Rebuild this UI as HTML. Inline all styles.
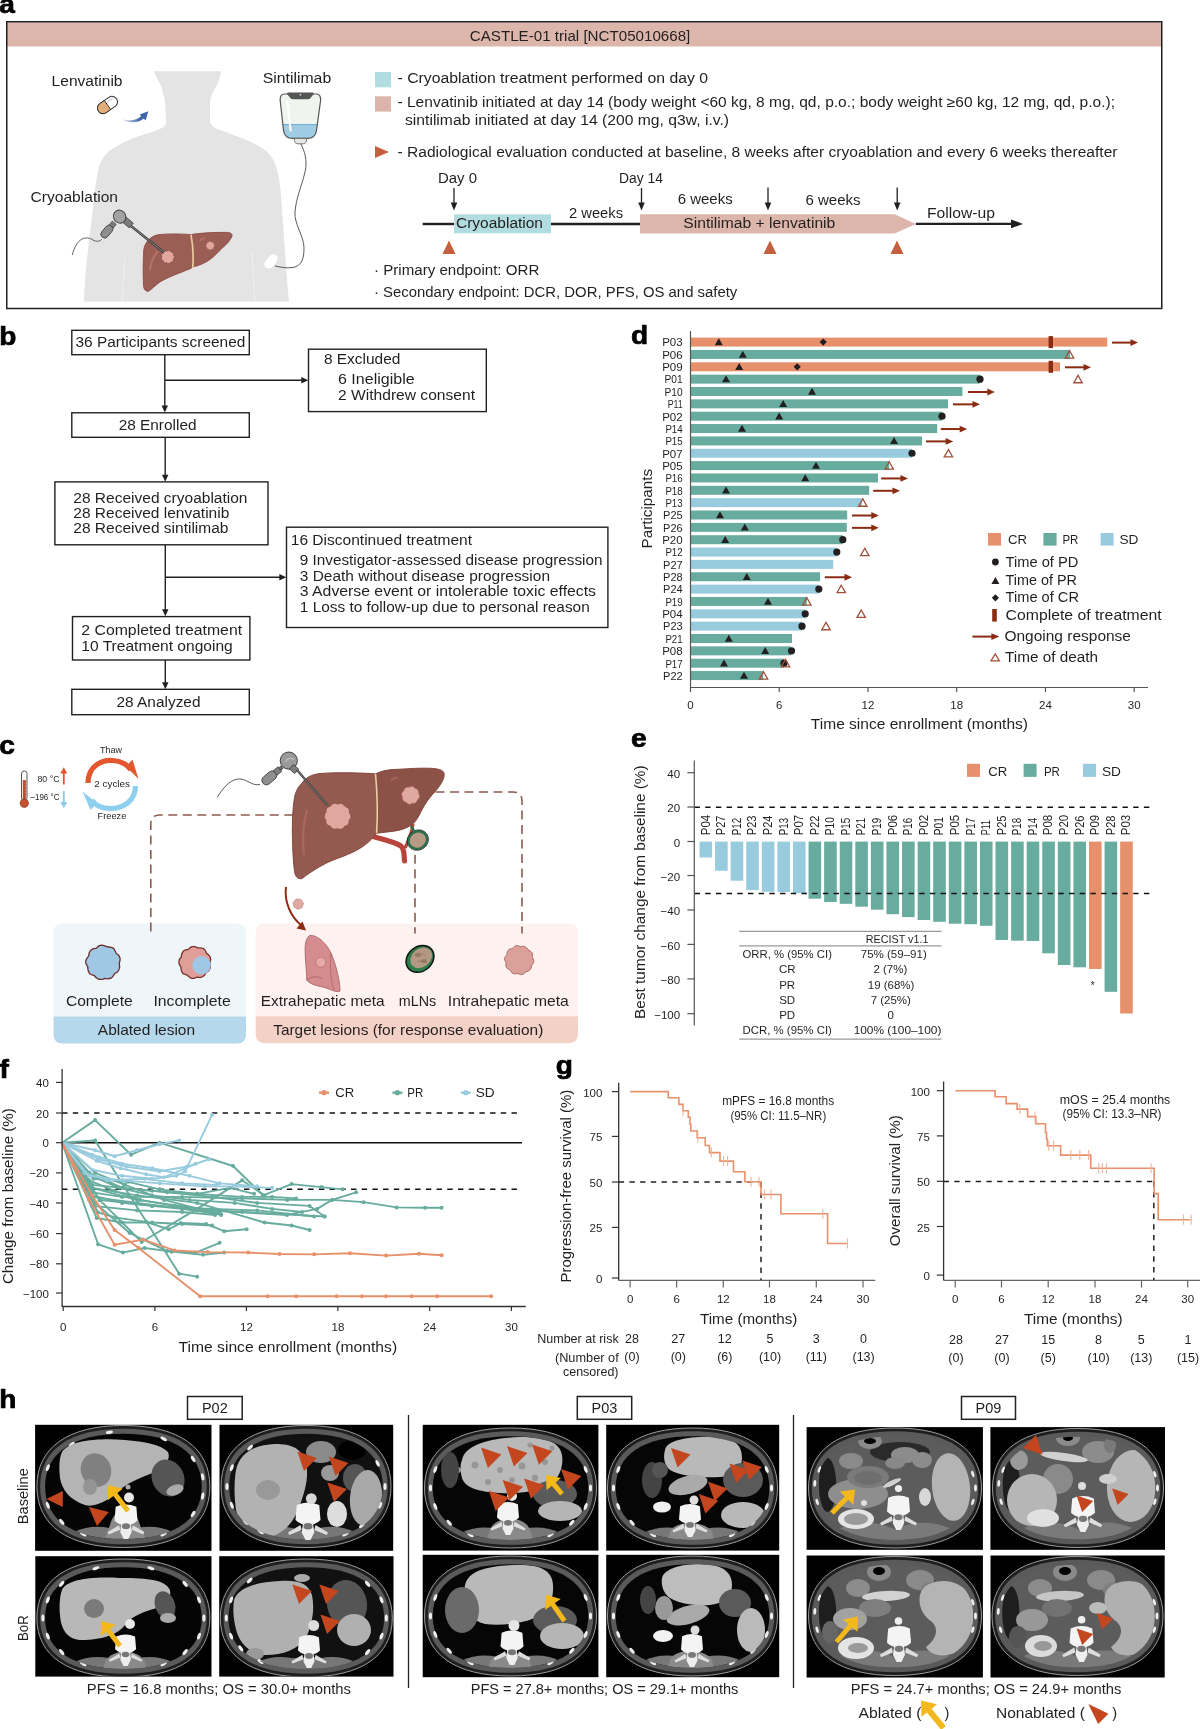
<!DOCTYPE html>
<html><head><meta charset="utf-8"><title>CASTLE-01 figure</title>
<style>
html,body{margin:0;padding:0;background:#fff;}
body{width:1200px;height:1729px;overflow:hidden;}
svg{display:block;font-family:"Liberation Sans",sans-serif;will-change:transform;}
</style></head><body>
<svg width="1200" height="1729" viewBox="0 0 1200 1729">
<rect x="0" y="0" width="1200" height="1729" fill="#fff"/>
<g fill="#231f20">
<text x="0" y="0" transform="translate(-0.71 13.30) scale(1.1 1)" font-size="25.5" font-weight="bold" fill="#000" stroke="#000" stroke-width="0.7">a</text>
<rect x="7.00" y="22.50" width="1154.50" height="24.00" fill="#dcb6aa" />
<rect x="6.75" y="21.75" width="1155.00" height="286.75" fill="none" stroke="#231f20" stroke-width="1.5" />
<text x="469.80" y="40.90" font-size="14" textLength="220.50" lengthAdjust="spacingAndGlyphs" >CASTLE-01 trial [NCT05010668]</text>
<path d="M153.75,71.25 L221.25,71.25 C220,78 218,83 216.25,86.25 C212,93 210,98 210,102.5 L210,122.5 C212,127 216,129 220,130 C228,133 234,135 240,137.5 C252,142 260,146 265,150 C271,155 274,160 276,166 C279,176 280,184 281,195 C282,210 283,222 284,240 C286,262 287,282 289,301.5 L83.75,301.5 C85,282 86,265 87.5,255 C89,240 91,225 92.5,212 C94,195 96,180 99,167 C102,158 106,153 112,149 C120,144 128,140 135,137.5 C145,134 152,132 157.5,130 C162,128 166,126 166.25,122.5 L165,101.25 C164,96 162,91 161.25,86.25 C158,80 155,75 153.75,71.25 Z" fill="#e4e4e4" />
<path d="M125,257 C124,272 123,288 122,301" fill="none" stroke="#ededed" stroke-width="1.2" />
<path d="M252,252 C253,270 254,288 255,301" fill="none" stroke="#ededed" stroke-width="1.2" />
<text x="51.60" y="85.60" font-size="14" textLength="70.90" lengthAdjust="spacingAndGlyphs" >Lenvatinib</text>
<text x="262.70" y="83.00" font-size="14" textLength="68.50" lengthAdjust="spacingAndGlyphs" >Sintilimab</text>
<text x="30.60" y="202.00" font-size="14" textLength="87.40" lengthAdjust="spacingAndGlyphs" >Cryoablation</text>
<g transform="rotate(-35 107.5 105)"><rect x="96.5" y="99.5" width="22" height="11" rx="5.5" fill="#fff" stroke="#333" stroke-width="1"/><path d="M102,99.5 L107.5,99.5 L107.5,110.5 L102,110.5 A5.5,5.5 0 0 1 102,99.5 Z" fill="#e2ae7a" stroke="#333" stroke-width="0.9"/><rect x="109" y="101.5" width="7" height="2" rx="1" fill="#ddd"/></g>
<linearGradient id="bluear" x1="123" y1="0" x2="140" y2="0" gradientUnits="userSpaceOnUse"><stop offset="0" stop-color="#3b63a8" stop-opacity="0.1"/><stop offset="1" stop-color="#3b63a8" stop-opacity="1"/></linearGradient>
<path d="M123.5,119.2 C130,121 136.5,120.3 141.2,116.2 L139.8,114.6 L148.3,111.2 L145.6,120.6 L143.7,118.5 C138,123.3 130,123 123.5,120.4 Z" fill="url(#bluear)" />
<clipPath id="bagclip"><path d="M284,94 C281.5,94.3 280,96.5 280.2,100.5 L283.6,131 C284.4,136 288,138.4 292.5,138.4 L307.5,138.4 C312,138.4 315.6,136 316.4,131 L320.6,100.5 C320.8,96.5 319.3,94.3 316.8,94 Z"/></clipPath>
<path d="M284,94 C281.5,94.3 280,96.5 280.2,100.5 L283.6,131 C284.4,136 288,138.4 292.5,138.4 L307.5,138.4 C312,138.4 315.6,136 316.4,131 L320.6,100.5 C320.8,96.5 319.3,94.3 316.8,94 Z" fill="#eff4ef" />
<g clip-path="url(#bagclip)"><rect x="278" y="124" width="45" height="16" fill="#9fcbe3"/><rect x="278" y="124" width="45" height="1" fill="#6fb0d8"/></g>
<path d="M287.5,101 L290.6,130.5" fill="none" stroke="#fff" stroke-width="2.2" stroke-linecap="round"/>
<path d="M284,94 C281.5,94.3 280,96.5 280.2,100.5 L283.6,131 C284.4,136 288,138.4 292.5,138.4 L307.5,138.4 C312,138.4 315.6,136 316.4,131 L320.6,100.5 C320.8,96.5 319.3,94.3 316.8,94 Z" fill="none" stroke="#555" stroke-width="1.2" />
<path d="M288.5,92.6 L312.5,92.6 C313.8,92.6 314.2,93.5 313.4,94.6 L310.2,98.3 C309.6,99 309,99.2 308,99.2 L292.8,99.2 C291.8,99.2 291.2,99 290.6,98.3 L287.4,94.6 C286.6,93.5 287.2,92.6 288.5,92.6 Z" fill="#555" />
<rect x="299.60" y="94.30" width="1.60" height="1.10" fill="#fff" />
<path d="M294.2,138.4 L306.6,138.4 L306.1,141.6 C305.7,143.2 304.5,143.8 302.6,143.8 L298.2,143.8 C296.3,143.8 295.1,143.2 294.7,141.6 Z" fill="#e8e8e8" stroke="#666" stroke-width="0.9" />
<path d="M300.8,143.8 C304,150 308,160 305,172 C302,185 296,198 295,212 C294,224 304,236 304,248 C304,258 302,266 293,267.5 C286,268.5 280,267 275,266" fill="none" stroke="#4a4a4a" stroke-width="0.9" />
<rect x="266" y="253" width="10" height="17" rx="5" fill="#fff" stroke="#ddd" stroke-width="0.8" transform="rotate(40 271 261.5)"/>
<path d="M148,291.5 C145,291 143.5,289 143.5,285 C143,275 143,262 143.75,249.5 C145,242 151,236 158.6,234.6 C170,233.5 182,233.8 191,234.6 C200,233 215,232.2 226.9,232.4 C231,232.5 233,234 231.7,237 C229,242 226,245 222.5,247.75 C218,252 215,256 210,259.5 C205,263 199,265.5 194.5,266.5 C192.5,267 191.5,268 190,268.75 C180,273 168,277 160,282 C155,285.5 151,290 148,291.5 Z" fill="#9b5e55" stroke="#87433a" stroke-width="0.8" />
<path d="M191,234.6 C193,245 193.5,257 192.75,267.9" fill="none" stroke="#ecc9a0" stroke-width="1.7" />
<path d="M157.75,251.25 C153,257 150.5,264 149.9,270.5" fill="none" stroke="#b37368" stroke-width="2" />
<path d="M200,241 C201,239 203,238 205,238" fill="none" stroke="#b37368" stroke-width="1.5" />
<path d="M174.32,257.00 L174.30,257.57 L174.06,258.10 L173.71,258.58 L173.33,259.01 L173.33,259.58 L173.29,260.17 L173.14,260.74 L172.81,261.20 L172.43,261.63 L171.90,261.88 L171.32,262.02 L170.72,262.06 L170.34,262.45 L169.97,262.98 L169.49,263.31 L168.95,263.51 L168.37,263.55 L167.80,263.36 L167.26,263.13 L166.77,262.82 L166.23,262.87 L165.63,262.97 L165.04,262.92 L164.54,262.64 L164.04,262.37 L163.67,261.92 L163.44,261.36 L163.32,260.76 L162.85,260.47 L162.38,260.13 L161.87,259.76 L161.58,259.26 L161.48,258.69 L161.52,258.11 L161.60,257.54 L161.90,257.00 L161.72,256.47 L161.55,255.90 L161.53,255.32 L161.64,254.76 L161.86,254.23 L162.27,253.81 L162.78,253.48 L163.30,253.23 L163.49,252.69 L163.78,252.21 L164.11,251.73 L164.51,251.30 L165.05,251.10 L165.61,250.98 L166.20,251.04 L166.78,251.22 L167.27,250.91 L167.80,250.73 L168.36,250.55 L168.93,250.57 L169.50,250.67 L169.98,251.01 L170.40,251.42 L170.76,251.87 L171.26,252.06 L171.86,252.16 L172.42,252.38 L172.79,252.81 L173.11,253.28 L173.31,253.82 L173.42,254.38 L173.35,254.98 L173.61,255.44 L173.99,255.91 L174.22,256.44 Z" fill="#e3a7a2" stroke="#8e4a43" stroke-width="0.7" />
<path d="M214.41,245.60 L214.31,245.96 L214.15,246.30 L213.93,246.60 L213.82,246.92 L213.80,247.28 L213.76,247.65 L213.60,247.98 L213.43,248.31 L213.15,248.55 L212.87,248.78 L212.52,248.91 L212.15,248.97 L211.82,249.08 L211.56,249.35 L211.25,249.52 L210.92,249.70 L210.57,249.81 L210.20,249.77 L209.84,249.73 L209.50,249.58 L209.18,249.39 L208.89,249.19 L208.54,249.17 L208.15,249.16 L207.80,249.03 L207.50,248.81 L207.26,248.54 L207.06,248.24 L206.89,247.92 L206.84,247.54 L206.69,247.24 L206.46,246.96 L206.28,246.65 L206.09,246.33 L206.03,245.96 L205.98,245.60 L206.06,245.24 L206.23,244.90 L206.42,244.59 L206.58,244.28 L206.58,243.91 L206.63,243.54 L206.82,243.23 L206.99,242.91 L207.23,242.63 L207.56,242.45 L207.89,242.30 L208.27,242.25 L208.57,242.09 L208.84,241.87 L209.15,241.68 L209.47,241.49 L209.84,241.43 L210.20,241.44 L210.56,241.49 L210.89,241.66 L211.20,241.85 L211.52,241.97 L211.89,241.99 L212.22,242.10 L212.60,242.17 L212.87,242.41 L213.15,242.65 L213.39,242.93 L213.51,243.28 L213.56,243.66 L213.67,243.98 L213.92,244.24 L214.12,244.55 L214.34,244.87 L214.35,245.24 Z" fill="#e0a6a0" stroke="#a8625b" stroke-width="0.5" />
<path d="M101.7,239.4 C99.5,241.5 96,242 93,240 C90,238 86,237 82,239 C77,242 74,248 72.3,255" fill="none" stroke="#3a3a3a" stroke-width="0.8" />
<g transform="rotate(-50 107.2 231.2)"><rect x="99.5" y="227.4" width="14.5" height="7.6" rx="3.8" fill="#8e8e8e" stroke="#3a3a3a" stroke-width="0.8"/><rect x="113.6" y="228.6" width="4.6" height="5.2" fill="#7a7a7a" stroke="#3a3a3a" stroke-width="0.6"/></g>
<line x1="131.00" y1="226.00" x2="164.00" y2="252.50" stroke="#3a3a3a" stroke-width="2.4" />
<line x1="131.00" y1="226.00" x2="164.00" y2="252.50" stroke="#8a8a8a" stroke-width="1.0" />
<g transform="rotate(40 127.5 222.3)"><rect x="122.5" y="219.2" width="10" height="6.2" fill="#7a7a7a" stroke="#3a3a3a" stroke-width="0.7"/></g>
<ellipse cx="119.6" cy="216.6" rx="6.1" ry="6.7" transform="rotate(-30 119.6 216.6)" fill="#a2a2a2" stroke="#3a3a3a" stroke-width="0.9"/>
<rect x="375.00" y="72.00" width="16.00" height="15.30" fill="#b2dde0" />
<rect x="375.00" y="96.30" width="16.00" height="15.30" fill="#dbb5aa" />
<path d="M375,146 L389,152 L375,158 Z" fill="#c5603f" />
<text x="397.50" y="83.10" font-size="14" textLength="310.50" lengthAdjust="spacingAndGlyphs" >- Cryoablation treatment performed on day 0</text>
<text x="397.50" y="107.30" font-size="14" textLength="717.50" lengthAdjust="spacingAndGlyphs" >- Lenvatinib initiated at day 14 (body weight &lt;60 kg, 8 mg, qd, p.o.; body weight ≥60 kg, 12 mg, qd, p.o.);</text>
<text x="405.00" y="124.50" font-size="14" textLength="324.00" lengthAdjust="spacingAndGlyphs" >sintilimab initiated at day 14 (200 mg, q3w, i.v.)</text>
<text x="397.50" y="156.80" font-size="14" textLength="720.00" lengthAdjust="spacingAndGlyphs" >- Radiological evaluation conducted at baseline, 8 weeks after cryoablation and every 6 weeks thereafter</text>
<line x1="422.70" y1="224.00" x2="454.00" y2="224.00" stroke="#231f20" stroke-width="2.4" />
<rect x="454.00" y="214.30" width="97.00" height="19.00" fill="#b2dde0" />
<line x1="551.00" y1="224.00" x2="640.00" y2="224.00" stroke="#231f20" stroke-width="2.4" />
<path d="M640,214.3 L894.7,214.3 L915.8,223.9 L894.7,233.5 L640,233.5 Z" fill="#dcb6aa" />
<line x1="915.80" y1="223.90" x2="1015.00" y2="223.90" stroke="#231f20" stroke-width="2.4" />
<path d="M1011,219.5 L1023,223.9 L1011,228.3 Z" fill="#231f20" />
<text x="456.00" y="227.70" font-size="14" textLength="87.00" lengthAdjust="spacingAndGlyphs" >Cryoablation</text>
<text x="683.30" y="227.70" font-size="14" textLength="152.00" lengthAdjust="spacingAndGlyphs" >Sintilimab + lenvatinib</text>
<text x="438.00" y="182.70" font-size="14" textLength="39.00" lengthAdjust="spacingAndGlyphs" >Day 0</text>
<text x="619.00" y="182.70" font-size="14" textLength="44.00" lengthAdjust="spacingAndGlyphs" >Day 14</text>
<text x="569.00" y="218.00" font-size="14" textLength="54.00" lengthAdjust="spacingAndGlyphs" >2 weeks</text>
<text x="677.70" y="204.30" font-size="14" textLength="55.00" lengthAdjust="spacingAndGlyphs" >6 weeks</text>
<text x="805.50" y="204.80" font-size="14" textLength="55.00" lengthAdjust="spacingAndGlyphs" >6 weeks</text>
<text x="927.00" y="217.70" font-size="14" textLength="68.00" lengthAdjust="spacingAndGlyphs" >Follow-up</text>
<line x1="454.00" y1="188.00" x2="454.00" y2="203.50" stroke="#231f20" stroke-width="1.3" />
<path d="M450.70,202.50 L454.00,210.50 L457.30,202.50 Z" fill="#231f20" />
<line x1="641.50" y1="188.00" x2="641.50" y2="203.50" stroke="#231f20" stroke-width="1.3" />
<path d="M638.20,202.50 L641.50,210.50 L644.80,202.50 Z" fill="#231f20" />
<line x1="768.00" y1="187.50" x2="768.00" y2="203.50" stroke="#231f20" stroke-width="1.3" />
<path d="M764.70,202.50 L768.00,210.50 L771.30,202.50 Z" fill="#231f20" />
<line x1="897.20" y1="187.50" x2="897.20" y2="203.50" stroke="#231f20" stroke-width="1.3" />
<path d="M893.90,202.50 L897.20,210.50 L900.50,202.50 Z" fill="#231f20" />
<path d="M442.5,254 L449,240.5 L455.5,254 Z" fill="#c5603f" />
<path d="M763.5,254 L770,240.5 L776.5,254 Z" fill="#c5603f" />
<path d="M890.5,254 L897,240.5 L903.5,254 Z" fill="#c5603f" />
<text x="374.00" y="275.00" font-size="14" textLength="165.30" lengthAdjust="spacingAndGlyphs" >· Primary endpoint: ORR</text>
<text x="374.00" y="296.70" font-size="14" textLength="363.30" lengthAdjust="spacingAndGlyphs" >· Secondary endpoint: DCR, DOR, PFS, OS and safety</text>
<text x="0" y="0" transform="translate(-0.87 345.30) scale(1.1 1)" font-size="25.5" font-weight="bold" fill="#000" stroke="#000" stroke-width="0.7">b</text>
<rect x="71.80" y="330.30" width="177.50" height="24.40" fill="none" stroke="#231f20" stroke-width="1.4" />
<text x="75.50" y="347.20" font-size="14" textLength="169.80" lengthAdjust="spacingAndGlyphs" >36 Participants screened</text>
<line x1="164.80" y1="354.70" x2="164.80" y2="406.50" stroke="#231f20" stroke-width="1.4" />
<path d="M161.60,405.50 L164.80,412.50 L168.00,405.50 Z" fill="#231f20" />
<line x1="164.80" y1="380.20" x2="302.30" y2="380.20" stroke="#231f20" stroke-width="1.4" />
<path d="M301.30,377.00 L308.30,380.20 L301.30,383.40 Z" fill="#231f20" />
<rect x="308.50" y="349.20" width="177.80" height="62.40" fill="none" stroke="#231f20" stroke-width="1.4" />
<text x="323.90" y="364.00" font-size="14" textLength="76.50" lengthAdjust="spacingAndGlyphs" >8 Excluded</text>
<text x="338.00" y="383.80" font-size="14" textLength="76.60" lengthAdjust="spacingAndGlyphs" >6 Ineligible</text>
<text x="338.00" y="400.00" font-size="14" textLength="137.00" lengthAdjust="spacingAndGlyphs" >2 Withdrew consent</text>
<rect x="71.80" y="412.80" width="177.50" height="24.50" fill="none" stroke="#231f20" stroke-width="1.4" />
<text x="118.70" y="430.00" font-size="14" textLength="77.80" lengthAdjust="spacingAndGlyphs" >28 Enrolled</text>
<line x1="165.20" y1="437.30" x2="165.20" y2="475.70" stroke="#231f20" stroke-width="1.4" />
<path d="M162.00,474.70 L165.20,481.70 L168.40,474.70 Z" fill="#231f20" />
<rect x="54.90" y="481.90" width="213.10" height="62.90" fill="none" stroke="#231f20" stroke-width="1.4" />
<text x="73.30" y="502.70" font-size="14" textLength="174.20" lengthAdjust="spacingAndGlyphs" >28 Received cryoablation</text>
<text x="73.30" y="518.10" font-size="14" textLength="156.00" lengthAdjust="spacingAndGlyphs" >28 Received lenvatinib</text>
<text x="73.30" y="533.30" font-size="14" textLength="155.20" lengthAdjust="spacingAndGlyphs" >28 Received sintilimab</text>
<line x1="165.30" y1="544.80" x2="165.30" y2="610.30" stroke="#231f20" stroke-width="1.4" />
<path d="M162.10,609.30 L165.30,616.30 L168.50,609.30 Z" fill="#231f20" />
<line x1="165.30" y1="577.30" x2="280.30" y2="577.30" stroke="#231f20" stroke-width="1.4" />
<path d="M279.30,574.10 L286.30,577.30 L279.30,580.50 Z" fill="#231f20" />
<rect x="286.50" y="527.20" width="321.40" height="100.30" fill="none" stroke="#231f20" stroke-width="1.4" />
<text x="290.80" y="544.80" font-size="14" textLength="181.20" lengthAdjust="spacingAndGlyphs" >16 Discontinued treatment</text>
<text x="299.80" y="565.20" font-size="14" textLength="302.70" lengthAdjust="spacingAndGlyphs" >9 Investigator-assessed disease progression</text>
<text x="299.80" y="580.80" font-size="14" textLength="250.20" lengthAdjust="spacingAndGlyphs" >3 Death without disease progression</text>
<text x="299.80" y="596.40" font-size="14" textLength="296.20" lengthAdjust="spacingAndGlyphs" >3 Adverse event or intolerable toxic effects</text>
<text x="299.80" y="612.00" font-size="14" textLength="289.90" lengthAdjust="spacingAndGlyphs" >1 Loss to follow-up due to personal reason</text>
<rect x="72.50" y="616.60" width="177.40" height="43.40" fill="none" stroke="#231f20" stroke-width="1.4" />
<text x="81.30" y="635.20" font-size="14" textLength="160.80" lengthAdjust="spacingAndGlyphs" >2 Completed treatment</text>
<text x="81.30" y="650.70" font-size="14" textLength="151.50" lengthAdjust="spacingAndGlyphs" >10 Treatment ongoing</text>
<line x1="165.30" y1="660.00" x2="165.30" y2="683.20" stroke="#231f20" stroke-width="1.4" />
<path d="M162.10,682.20 L165.30,689.20 L168.50,682.20 Z" fill="#231f20" />
<rect x="71.80" y="689.30" width="177.50" height="25.40" fill="none" stroke="#231f20" stroke-width="1.4" />
<text x="116.50" y="706.70" font-size="14" textLength="84.00" lengthAdjust="spacingAndGlyphs" >28 Analyzed</text>
<text x="0" y="0" transform="translate(-0.80 753.50) scale(1.1 1)" font-size="25.5" font-weight="bold" fill="#000" stroke="#000" stroke-width="0.7">c</text>
<path d="M62.5,923.5 L237,923.5 Q246,923.5 246,932.5 L246,1016.5 L53.5,1016.5 L53.5,932.5 Q53.5,923.5 62.5,923.5 Z" fill="#eef6fa"/>
<path d="M53.5,1016.5 L246,1016.5 L246,1034.5 Q246,1043.5 237,1043.5 L62.5,1043.5 Q53.5,1043.5 53.5,1034.5 Z" fill="#b5d8ec"/>
<path d="M265,923.5 L568.5,923.5 Q578,923.5 578,933 L578,1016.3 L255.7,1016.3 L255.7,933 Q255.7,923.5 265,923.5 Z" fill="#fdf2ef"/>
<path d="M255.7,1016.3 L578,1016.3 L578,1034 Q578,1043.2 568.5,1043.2 L265,1043.2 Q255.7,1043.2 255.7,1034 Z" fill="#f4d1c6"/>
<path d="M150.8,931.5 L150.8,824 Q150.8,815 159.8,815 L330,815" fill="none" stroke="#8d5a4f" stroke-width="1.6" stroke-dasharray="9 5.5"/>
<path d="M421,792 L513,792 Q522,792 522,801 L522,933.4" fill="none" stroke="#8d5a4f" stroke-width="1.6" stroke-dasharray="9 5.5"/>
<path d="M415,854.8 L415,933.4" fill="none" stroke="#8d5a4f" stroke-width="1.6" stroke-dasharray="9 5.5"/>
<rect x="21.50" y="771.00" width="5.50" height="30.00" fill="#fff" stroke="#444" stroke-width="0.9" rx="2.7"/>
<rect x="22.80" y="780.00" width="3.00" height="22.00" fill="#c6502f" />
<circle cx="24.30" cy="803.20" r="4.20" fill="#c6502f" stroke="#7a2e1a" stroke-width="0.6" />
<line x1="24.50" y1="782.00" x2="26.50" y2="782.00" stroke="#7a2e1a" stroke-width="0.5" />
<line x1="24.50" y1="785.00" x2="26.50" y2="785.00" stroke="#7a2e1a" stroke-width="0.5" />
<line x1="24.50" y1="788.00" x2="26.50" y2="788.00" stroke="#7a2e1a" stroke-width="0.5" />
<line x1="24.50" y1="791.00" x2="26.50" y2="791.00" stroke="#7a2e1a" stroke-width="0.5" />
<line x1="24.50" y1="794.00" x2="26.50" y2="794.00" stroke="#7a2e1a" stroke-width="0.5" />
<line x1="24.50" y1="797.00" x2="26.50" y2="797.00" stroke="#7a2e1a" stroke-width="0.5" />
<text x="59.50" y="782.00" font-size="8.5" text-anchor="end" textLength="22.00" lengthAdjust="spacingAndGlyphs" >80 °C</text>
<text x="59.50" y="799.50" font-size="8.5" text-anchor="end" textLength="29.00" lengthAdjust="spacingAndGlyphs" >–196 °C</text>
<line x1="63.80" y1="784.50" x2="63.80" y2="772.00" stroke="#e0562f" stroke-width="1.8" />
<path d="M60.3,773.5 L63.8,767.3 L67.3,773.5 Z" fill="#e0562f" />
<line x1="63.80" y1="791.00" x2="63.80" y2="803.00" stroke="#8cc9ea" stroke-width="1.8" />
<path d="M60.3,802 L63.8,808.2 L67.3,802 Z" fill="#8cc9ea" />
<path d="M88,783 C88,765 103,759.5 113,760.5 C121,761 128,765 131,770" fill="none" stroke="#e4572e" stroke-width="5.2" />
<path d="M126,766.5 L138.5,779 L132.5,759.5 Z" fill="#e4572e" />
<path d="M135.5,786 C135.5,800 124,808.5 111,808.5 C101,808.5 95,805 92,800" fill="none" stroke="#8fcfee" stroke-width="5.2" />
<path d="M97,803 L82.5,791.5 L90.5,810 Z" fill="#8fcfee" />
<text x="100.00" y="753.00" font-size="9.5" textLength="22.00" lengthAdjust="spacingAndGlyphs" >Thaw</text>
<text x="94.30" y="787.00" font-size="9.5" textLength="35.70" lengthAdjust="spacingAndGlyphs" >2 cycles</text>
<text x="97.50" y="819.30" font-size="9.5" textLength="28.80" lengthAdjust="spacingAndGlyphs" >Freeze</text>
<path d="M217.3,797.4 C224,786 232,778 241,779 C248,780 252,786 260,784.5" fill="none" stroke="#333" stroke-width="0.8" />
<g transform="rotate(-40 269.3 777.9)"><rect x="261" y="773.4" width="16.6" height="9" rx="4.5" fill="#8f8f8f" stroke="#333" stroke-width="0.8"/><rect x="277" y="775" width="6" height="5.8" fill="#7d7d7d" stroke="#333" stroke-width="0.7"/><rect x="283" y="776.2" width="3" height="3.4" fill="#6a6a6a" stroke="#333" stroke-width="0.5"/></g>
<circle cx="288.80" cy="760.60" r="8.60" fill="#9a9a9a" stroke="#333" stroke-width="0.9" />
<path d="M285.5,762 C287,758 292,757 294,760" fill="none" stroke="#c4c4c4" stroke-width="1.2" />
<rect x="290.5" y="766" width="7" height="6" fill="#7d7d7d" stroke="#333" stroke-width="0.7" transform="rotate(40 294 769)"/>
<path d="M373,836.5 C385,840 395,842 401,846 C405,850 404,857 404.5,861" fill="none" stroke="#b8453d" stroke-width="5.2" stroke-linecap="round"/>
<path d="M413,824 C412,832 409,840 405,848" fill="none" stroke="#b8453d" stroke-width="3.2" />
<path d="M301.8,783.3 C306,777 312,774.5 320,773.5 C335,772.3 355,772.5 375.5,773.8 C377,790 378,812 376.6,833.2 C370,842 362,848 351.7,852.7 C340,858 332,860 325.7,863.5 C315,869 308,874 301.8,878.7 C297,879 295,876 294.5,871 C293,860 292.5,845 292.3,831 C292.5,815 293,805 295,795 C297,789 299,786 301.8,783.3 Z" fill="#955a4f" stroke="#7d4036" stroke-width="0.9" />
<path d="M375.5,773.8 C382,770.5 390,769.3 398,769.3 C410,768.5 420,768 427.5,768.2 C435,768.3 441,769 443.5,772 C445.5,776 443,781 438.3,787.7 C434,793 430,797 427.5,800.7 C423,807 421,812 418.9,815.8 C416,821 414,823 412.3,824.5 C407,828 400,830.5 395,831 C388,832 383,832.5 376.6,833.2 C378,812 377,790 375.5,773.8 Z" fill="#8c5147" stroke="#7d4036" stroke-width="0.9" />
<path d="M375.5,773.8 C377,790 378,812 376.6,833.2" fill="none" stroke="#ecd1a6" stroke-width="1.6" />
<path d="M307,810 C303,825 302,840 304,855" fill="none" stroke="#a8685d" stroke-width="2.2" />
<path d="M391,781 C393,778 397,777 398,779" fill="none" stroke="#a4675d" stroke-width="1.6" />
<line x1="297.00" y1="770.00" x2="328.00" y2="806.00" stroke="#3c3c3c" stroke-width="2.3" />
<line x1="297.00" y1="770.00" x2="328.00" y2="806.00" stroke="#8a8a8a" stroke-width="0.9" />
<path d="M351.05,816.30 L350.87,817.46 L350.48,818.57 L349.79,819.57 L349.04,820.46 L349.10,821.66 L349.12,822.95 L348.54,823.96 L347.81,824.86 L346.98,825.68 L345.75,826.01 L344.63,826.34 L343.95,827.31 L343.17,828.25 L342.15,828.81 L341.08,829.29 L339.91,829.39 L338.72,829.05 L337.60,828.62 L336.50,828.91 L335.35,829.07 L334.12,829.28 L333.00,828.95 L332.02,828.27 L331.22,827.35 L330.45,826.51 L329.57,825.87 L328.37,825.53 L327.32,824.93 L326.55,824.04 L325.98,823.01 L325.87,821.77 L325.80,820.59 L325.64,819.50 L324.78,818.56 L324.28,817.47 L324.27,816.30 L324.39,815.14 L324.81,814.05 L325.33,813.01 L326.07,812.10 L325.96,810.87 L326.20,809.72 L326.60,808.60 L327.36,807.71 L328.34,807.04 L329.43,806.56 L330.60,806.31 L331.19,805.20 L332.02,804.34 L332.98,803.61 L334.10,803.25 L335.29,803.18 L336.48,803.52 L337.60,804.13 L338.71,803.65 L339.89,803.31 L341.09,803.29 L342.20,803.66 L343.23,804.23 L344.00,805.21 L344.74,806.10 L345.65,806.71 L346.75,807.15 L347.72,807.81 L348.68,808.54 L349.24,809.58 L349.26,810.86 L349.40,812.01 L349.55,813.10 L350.22,814.07 L350.77,815.15 Z" fill="#e0a7a1" stroke="#8e4c45" stroke-width="0.9" />
<path d="M419.41,795.30 L419.56,796.08 L419.56,796.88 L419.34,797.64 L419.01,798.36 L418.39,798.93 L417.87,799.50 L417.41,800.07 L417.15,800.79 L416.85,801.55 L416.31,802.10 L415.77,802.69 L415.08,803.06 L414.36,803.36 L413.57,803.46 L412.75,803.34 L412.02,803.36 L411.34,803.75 L410.60,804.14 L409.82,804.26 L409.04,804.13 L408.26,804.05 L407.58,803.59 L406.93,803.18 L406.43,802.52 L405.93,801.97 L405.08,801.88 L404.43,801.47 L403.79,801.02 L403.14,800.52 L402.75,799.83 L402.58,799.04 L402.37,798.29 L402.47,797.48 L402.46,796.73 L402.16,796.04 L401.76,795.30 L401.66,794.52 L401.63,793.72 L401.84,792.95 L402.29,792.27 L402.76,791.64 L403.37,791.13 L403.91,790.61 L404.13,789.87 L404.42,789.12 L404.84,788.44 L405.47,787.98 L406.08,787.48 L406.86,787.28 L407.64,787.18 L408.41,787.13 L409.17,787.20 L409.86,786.84 L410.60,786.53 L411.38,786.36 L412.15,786.49 L412.95,786.52 L413.61,787.03 L414.28,787.40 L414.83,787.97 L415.27,788.62 L416.11,788.73 L416.78,789.12 L417.46,789.54 L417.92,790.17 L418.33,790.84 L418.60,791.57 L418.82,792.31 L418.67,793.14 L418.75,793.86 L419.16,794.55 Z" fill="#dfa8a1" stroke="#a8655e" stroke-width="0.6" />
<path d="M303.36,904.00 L303.31,904.45 L303.07,904.86 L302.88,905.25 L302.70,905.64 L302.65,906.07 L302.60,906.54 L302.40,906.94 L302.21,907.36 L301.88,907.68 L301.53,907.96 L301.14,908.20 L300.73,908.38 L300.25,908.40 L299.82,908.45 L299.47,908.76 L299.08,909.01 L298.65,909.14 L298.20,909.21 L297.74,909.28 L297.30,909.11 L296.85,909.02 L296.48,908.74 L296.13,908.43 L295.83,908.11 L295.42,907.97 L294.96,907.86 L294.60,907.60 L294.20,907.35 L293.89,907.02 L293.67,906.61 L293.49,906.19 L293.45,905.73 L293.44,905.27 L293.48,904.83 L293.37,904.42 L293.23,904.00 L293.14,903.56 L293.08,903.10 L293.14,902.64 L293.29,902.21 L293.45,901.79 L293.74,901.43 L294.12,901.14 L294.47,900.87 L294.81,900.61 L295.00,900.19 L295.28,899.83 L295.63,899.54 L295.97,899.22 L296.42,899.10 L296.85,898.96 L297.30,898.90 L297.76,899.01 L298.20,899.09 L298.61,899.31 L299.05,899.17 L299.51,899.12 L299.96,899.16 L300.42,899.24 L300.82,899.47 L301.21,899.70 L301.53,900.03 L301.80,900.40 L301.99,900.82 L302.16,901.23 L302.44,901.55 L302.72,901.89 L303.02,902.25 L303.18,902.67 L303.38,903.09 L303.44,903.54 Z" fill="#dfa8a1" stroke="#b27069" stroke-width="0.5" />
<ellipse cx="417.8" cy="840.1" rx="9.5" ry="8.5" transform="rotate(-30 417.8 840.1)" fill="#b89a86" stroke="#2a7048" stroke-width="2.4"/>
<ellipse cx="417.8" cy="840.1" rx="11" ry="10" transform="rotate(-30 417.8 840.1)" fill="none" stroke="#1a1a1a" stroke-width="0.7"/>
<line x1="411.00" y1="826.00" x2="414.00" y2="831.00" stroke="#2a7048" stroke-width="2.5" />
<path d="M286,887 C284,902 291,917 301,925" fill="none" stroke="#8a2b12" stroke-width="2" />
<path d="M296.5,928.5 L306,930.5 L302.5,921.5 Z" fill="#8a2b12" />
<path d="M119.52,962.50 L119.27,963.91 L119.49,965.37 L119.63,966.90 L119.47,968.42 L118.82,969.78 L118.08,971.09 L117.00,972.17 L115.76,973.04 L114.41,973.71 L113.80,975.13 L112.87,976.32 L111.89,977.55 L110.56,978.27 L109.02,978.50 L107.59,978.89 L106.06,978.70 L104.60,978.48 L103.20,979.09 L101.73,979.32 L100.23,979.36 L98.71,979.26 L97.38,978.50 L96.14,977.64 L95.10,976.54 L94.12,975.47 L92.57,975.17 L91.19,974.51 L89.88,973.68 L88.99,972.45 L88.29,971.11 L87.97,969.60 L87.84,968.09 L87.77,966.63 L86.97,965.36 L86.10,964.00 L85.76,962.50 L85.81,960.98 L86.22,959.51 L87.02,958.17 L87.97,956.96 L88.77,955.77 L88.99,954.30 L89.20,952.70 L89.99,951.41 L90.86,950.16 L92.18,949.37 L93.47,948.61 L94.99,948.29 L96.51,948.16 L97.57,947.04 L98.76,945.95 L100.20,945.49 L101.67,945.07 L103.20,945.36 L104.65,945.90 L106.04,946.41 L107.36,946.97 L108.83,947.02 L110.33,947.22 L111.81,947.58 L113.23,948.17 L114.29,949.28 L115.00,950.70 L115.62,952.08 L116.19,953.40 L117.41,954.30 L118.70,955.27 L119.34,956.63 L119.97,958.01 L120.10,959.52 L119.84,961.04 Z" fill="#a0c8e4" stroke="#6b2d2a" stroke-width="1.3" />
<path d="M209.93,962.50 L209.98,963.81 L210.19,965.18 L210.25,966.59 L210.14,968.01 L209.55,969.29 L208.83,970.49 L207.70,971.39 L206.42,972.08 L205.61,973.11 L205.01,974.43 L204.08,975.47 L203.07,976.47 L201.77,977.02 L200.47,977.54 L198.96,977.28 L197.60,977.25 L196.29,977.30 L195.00,978.09 L193.62,978.33 L192.20,978.38 L190.80,978.18 L189.62,977.28 L188.53,976.37 L187.50,975.49 L186.40,974.78 L185.10,974.30 L183.62,973.88 L182.52,972.97 L181.89,971.68 L181.27,970.43 L181.11,968.98 L181.07,967.57 L180.49,966.39 L179.81,965.18 L179.06,963.89 L178.99,962.50 L179.03,961.10 L179.27,959.73 L180.12,958.51 L181.04,957.42 L181.39,956.16 L181.56,954.74 L181.97,953.38 L182.74,952.21 L183.55,951.05 L184.70,950.23 L186.06,949.73 L187.54,949.57 L188.69,948.96 L189.70,947.95 L190.86,947.05 L192.19,946.54 L193.60,946.55 L195.00,946.70 L196.34,947.16 L197.58,947.85 L198.90,947.94 L200.31,947.91 L201.67,948.19 L203.12,948.43 L204.24,949.31 L205.21,950.33 L205.86,951.64 L206.38,952.95 L207.25,953.93 L208.52,954.69 L209.34,955.82 L210.19,956.97 L210.48,958.35 L210.70,959.73 L210.24,961.17 Z" fill="#df9f98" stroke="#7a2f2a" stroke-width="1.3" />
<circle cx="201.50" cy="965.30" r="9.20" fill="#a0c8e4" />
<path d="M309.5,935.4 C304,940 305,950 305.5,960 C306,968 307,975 306.7,980 C310,985 320,986 326,988 C332,990 337,993 340,991 C340,980 336,965 331,953 C326,943 318,935 309.5,935.4 Z" fill="#d58c8f" stroke="#a4595d" stroke-width="0.8" />
<path d="M306.7,980 C312,976 318,976 323,979" fill="none" stroke="#a4595d" stroke-width="0.7" />
<path d="M331,953 C330,965 330,978 334,990" fill="none" stroke="#a4595d" stroke-width="0.6" />
<circle cx="320.80" cy="962.30" r="5.00" fill="#e4a9a8" stroke="#b06a6a" stroke-width="0.6" />
<ellipse cx="420" cy="958.9" rx="15" ry="12.2" transform="rotate(-40 420 958.9)" fill="#2d7e4c" stroke="#111" stroke-width="1.5"/>
<ellipse cx="421.2" cy="957.8" rx="11.8" ry="9.2" transform="rotate(-40 421.2 957.8)" fill="#b39883"/>
<ellipse cx="418" cy="955" rx="3" ry="2" fill="#9a7a66"/><ellipse cx="424" cy="961" rx="3" ry="2" fill="#9a7a66"/>
<path d="M415,955 C418,952 423,953 425,956 M417,962 C420,960 424,961 426,963" fill="none" stroke="#8a6a58" stroke-width="0.6" />
<path d="M533.76,960.10 L533.87,961.38 L533.59,962.64 L532.94,963.78 L532.24,964.85 L531.43,965.80 L531.32,967.09 L531.03,968.38 L530.39,969.49 L529.47,970.37 L528.42,971.09 L527.19,971.51 L525.80,971.53 L525.10,972.75 L524.09,973.53 L522.97,974.18 L521.73,974.43 L520.47,974.64 L519.20,974.18 L518.02,973.59 L516.80,973.69 L515.54,973.77 L514.22,973.78 L512.99,973.42 L511.99,972.58 L511.03,971.77 L510.51,970.46 L509.62,969.68 L508.26,969.28 L507.36,968.39 L506.37,967.51 L506.00,966.25 L505.83,964.97 L506.03,963.63 L505.88,962.45 L505.25,961.32 L504.83,960.10 L504.46,958.81 L504.87,957.57 L505.31,956.38 L506.31,955.41 L506.93,954.38 L506.99,953.05 L507.31,951.78 L507.90,950.62 L508.82,949.72 L509.91,949.03 L511.28,948.80 L512.55,948.57 L513.30,947.44 L514.32,946.68 L515.38,945.84 L516.63,945.53 L517.94,945.72 L519.20,946.12 L520.37,946.73 L521.58,946.58 L522.93,946.17 L524.19,946.40 L525.35,946.90 L526.40,947.62 L527.33,948.49 L528.00,949.61 L528.85,950.45 L530.07,950.98 L531.14,951.74 L531.99,952.72 L532.34,953.97 L532.58,955.23 L532.43,956.56 L532.56,957.75 L533.15,958.88 Z" fill="#dba09a" stroke="#a8625c" stroke-width="0.9" />
<text x="65.90" y="1006.20" font-size="14.5" textLength="66.90" lengthAdjust="spacingAndGlyphs" >Complete</text>
<text x="153.40" y="1006.20" font-size="14.5" textLength="77.40" lengthAdjust="spacingAndGlyphs" >Incomplete</text>
<text x="97.80" y="1035.30" font-size="14.5" textLength="97.30" lengthAdjust="spacingAndGlyphs" >Ablated lesion</text>
<text x="260.80" y="1005.70" font-size="14.5" textLength="123.80" lengthAdjust="spacingAndGlyphs" >Extrahepatic meta</text>
<text x="398.80" y="1005.70" font-size="14.5" textLength="37.40" lengthAdjust="spacingAndGlyphs" >mLNs</text>
<text x="447.80" y="1005.70" font-size="14.5" textLength="121.00" lengthAdjust="spacingAndGlyphs" >Intrahepatic meta</text>
<text x="273.20" y="1035.40" font-size="14.5" textLength="270.10" lengthAdjust="spacingAndGlyphs" >Target lesions (for response evaluation)</text>
<text x="0" y="0" transform="translate(631.01 344.00) scale(1.1 1)" font-size="25.5" font-weight="bold" fill="#000" stroke="#000" stroke-width="0.7">d</text>
<rect x="690.50" y="337.60" width="416.70" height="9.00" fill="#e6906c" />
<text x="682.70" y="346.40" font-size="11.8" text-anchor="end" textLength="20.50" lengthAdjust="spacingAndGlyphs" >P03</text>
<rect x="690.50" y="349.95" width="379.50" height="9.00" fill="#67ac9e" />
<text x="682.70" y="358.75" font-size="11.8" text-anchor="end" textLength="20.50" lengthAdjust="spacingAndGlyphs" >P06</text>
<rect x="690.50" y="362.30" width="369.50" height="9.00" fill="#e6906c" />
<text x="682.70" y="371.10" font-size="11.8" text-anchor="end" textLength="20.50" lengthAdjust="spacingAndGlyphs" >P09</text>
<rect x="690.50" y="374.65" width="289.50" height="9.00" fill="#67ac9e" />
<text x="682.70" y="383.45" font-size="11.8" text-anchor="end" textLength="18.20" lengthAdjust="spacingAndGlyphs" >P01</text>
<rect x="690.50" y="387.00" width="271.90" height="9.00" fill="#67ac9e" />
<text x="682.70" y="395.80" font-size="11.8" text-anchor="end" textLength="18.20" lengthAdjust="spacingAndGlyphs" >P10</text>
<rect x="690.50" y="399.35" width="257.50" height="9.00" fill="#67ac9e" />
<text x="682.70" y="408.15" font-size="11.8" text-anchor="end" textLength="15.00" lengthAdjust="spacingAndGlyphs" >P11</text>
<rect x="690.50" y="411.70" width="251.50" height="9.00" fill="#67ac9e" />
<text x="682.70" y="420.50" font-size="11.8" text-anchor="end" textLength="20.50" lengthAdjust="spacingAndGlyphs" >P02</text>
<rect x="690.50" y="424.05" width="246.70" height="9.00" fill="#67ac9e" />
<text x="682.70" y="432.85" font-size="11.8" text-anchor="end" textLength="17.30" lengthAdjust="spacingAndGlyphs" >P14</text>
<rect x="690.50" y="436.40" width="231.50" height="9.00" fill="#67ac9e" />
<text x="682.70" y="445.20" font-size="11.8" text-anchor="end" textLength="17.30" lengthAdjust="spacingAndGlyphs" >P15</text>
<rect x="690.50" y="448.75" width="221.50" height="9.00" fill="#98cbdd" />
<text x="682.70" y="457.55" font-size="11.8" text-anchor="end" textLength="20.50" lengthAdjust="spacingAndGlyphs" >P07</text>
<rect x="690.50" y="461.10" width="198.70" height="9.00" fill="#67ac9e" />
<text x="682.70" y="469.90" font-size="11.8" text-anchor="end" textLength="20.50" lengthAdjust="spacingAndGlyphs" >P05</text>
<rect x="690.50" y="473.45" width="187.50" height="9.00" fill="#67ac9e" />
<text x="682.70" y="482.25" font-size="11.8" text-anchor="end" textLength="17.30" lengthAdjust="spacingAndGlyphs" >P16</text>
<rect x="690.50" y="485.80" width="178.70" height="9.00" fill="#67ac9e" />
<text x="682.70" y="494.60" font-size="11.8" text-anchor="end" textLength="17.30" lengthAdjust="spacingAndGlyphs" >P18</text>
<rect x="690.50" y="498.15" width="171.50" height="9.00" fill="#98cbdd" />
<text x="682.70" y="506.95" font-size="11.8" text-anchor="end" textLength="17.30" lengthAdjust="spacingAndGlyphs" >P13</text>
<rect x="690.50" y="510.50" width="156.70" height="9.00" fill="#67ac9e" />
<text x="682.70" y="519.30" font-size="11.8" text-anchor="end" textLength="19.60" lengthAdjust="spacingAndGlyphs" >P25</text>
<rect x="690.50" y="522.85" width="156.30" height="9.00" fill="#67ac9e" />
<text x="682.70" y="531.65" font-size="11.8" text-anchor="end" textLength="19.60" lengthAdjust="spacingAndGlyphs" >P26</text>
<rect x="690.50" y="535.20" width="152.30" height="9.00" fill="#67ac9e" />
<text x="682.70" y="544.00" font-size="11.8" text-anchor="end" textLength="20.50" lengthAdjust="spacingAndGlyphs" >P20</text>
<rect x="690.50" y="547.55" width="146.30" height="9.00" fill="#98cbdd" />
<text x="682.70" y="556.35" font-size="11.8" text-anchor="end" textLength="17.30" lengthAdjust="spacingAndGlyphs" >P12</text>
<rect x="690.50" y="559.90" width="142.70" height="9.00" fill="#98cbdd" />
<text x="682.70" y="568.70" font-size="11.8" text-anchor="end" textLength="19.60" lengthAdjust="spacingAndGlyphs" >P27</text>
<rect x="690.50" y="572.25" width="129.50" height="9.00" fill="#67ac9e" />
<text x="682.70" y="581.05" font-size="11.8" text-anchor="end" textLength="19.60" lengthAdjust="spacingAndGlyphs" >P28</text>
<rect x="690.50" y="584.60" width="128.30" height="9.00" fill="#98cbdd" />
<text x="682.70" y="593.40" font-size="11.8" text-anchor="end" textLength="19.60" lengthAdjust="spacingAndGlyphs" >P24</text>
<rect x="690.50" y="596.95" width="116.30" height="9.00" fill="#67ac9e" />
<text x="682.70" y="605.75" font-size="11.8" text-anchor="end" textLength="17.30" lengthAdjust="spacingAndGlyphs" >P19</text>
<rect x="690.50" y="609.30" width="114.70" height="9.00" fill="#98cbdd" />
<text x="682.70" y="618.10" font-size="11.8" text-anchor="end" textLength="20.50" lengthAdjust="spacingAndGlyphs" >P04</text>
<rect x="690.50" y="621.65" width="111.50" height="9.00" fill="#98cbdd" />
<text x="682.70" y="630.45" font-size="11.8" text-anchor="end" textLength="19.60" lengthAdjust="spacingAndGlyphs" >P23</text>
<rect x="690.50" y="634.00" width="101.50" height="9.00" fill="#67ac9e" />
<text x="682.70" y="642.80" font-size="11.8" text-anchor="end" textLength="17.30" lengthAdjust="spacingAndGlyphs" >P21</text>
<rect x="690.50" y="646.35" width="100.50" height="9.00" fill="#67ac9e" />
<text x="682.70" y="655.15" font-size="11.8" text-anchor="end" textLength="20.50" lengthAdjust="spacingAndGlyphs" >P08</text>
<rect x="690.50" y="658.70" width="93.50" height="9.00" fill="#67ac9e" />
<text x="682.70" y="667.50" font-size="11.8" text-anchor="end" textLength="17.30" lengthAdjust="spacingAndGlyphs" >P17</text>
<rect x="690.50" y="671.05" width="72.70" height="9.00" fill="#67ac9e" />
<text x="682.70" y="679.85" font-size="11.8" text-anchor="end" textLength="19.60" lengthAdjust="spacingAndGlyphs" >P22</text>
<path d="M714.80,345.30 L718.80,338.30 L722.80,345.30 Z" fill="#231f20" />
<path d="M819.6,342.1 L823.2,338.5 L826.8000000000001,342.1 L823.2,345.70000000000005 Z" fill="#231f20" />
<rect x="1048.60" y="336.10" width="4.40" height="12.00" fill="#8a2b12" />
<line x1="1112.00" y1="342.60" x2="1131.50" y2="342.60" stroke="#8a2b12" stroke-width="2.0" />
<path d="M1130.50,339.20 L1138.00,342.60 L1130.50,346.00 Z" fill="#8a2b12" />
<path d="M738.80,357.65 L742.80,350.65 L746.80,357.65 Z" fill="#231f20" />
<path d="M1065.3,358.05000000000007 L1069.5,350.65000000000003 L1073.7,358.05000000000007 Z" fill="none" stroke="#a0503a" stroke-width="1.3" />
<path d="M735.20,370.00 L739.20,363.00 L743.20,370.00 Z" fill="#231f20" />
<path d="M793.6,366.8 L797.2,363.2 L800.8000000000001,366.8 L797.2,370.40000000000003 Z" fill="#231f20" />
<rect x="1048.60" y="360.80" width="4.40" height="12.00" fill="#8a2b12" />
<line x1="1065.00" y1="367.30" x2="1084.50" y2="367.30" stroke="#8a2b12" stroke-width="2.0" />
<path d="M1083.50,363.90 L1091.00,367.30 L1083.50,370.70 Z" fill="#8a2b12" />
<path d="M722.00,382.35 L726.00,375.35 L730.00,382.35 Z" fill="#231f20" />
<circle cx="980.00" cy="379.15" r="3.60" fill="#231f20" />
<path d="M1073.8,382.75000000000006 L1078,375.35 L1082.2,382.75000000000006 Z" fill="none" stroke="#a0503a" stroke-width="1.3" />
<path d="M808.00,394.70 L812.00,387.70 L816.00,394.70 Z" fill="#231f20" />
<line x1="968.00" y1="392.00" x2="988.30" y2="392.00" stroke="#8a2b12" stroke-width="2.0" />
<path d="M987.30,388.60 L994.80,392.00 L987.30,395.40 Z" fill="#8a2b12" />
<path d="M779.20,407.05 L783.20,400.05 L787.20,407.05 Z" fill="#231f20" />
<line x1="953.00" y1="404.35" x2="973.50" y2="404.35" stroke="#8a2b12" stroke-width="2.0" />
<path d="M972.50,400.95 L980.00,404.35 L972.50,407.75 Z" fill="#8a2b12" />
<path d="M775.20,419.40 L779.20,412.40 L783.20,419.40 Z" fill="#231f20" />
<circle cx="942.00" cy="416.20" r="3.60" fill="#231f20" />
<path d="M738.00,431.75 L742.00,424.75 L746.00,431.75 Z" fill="#231f20" />
<line x1="940.80" y1="429.05" x2="960.70" y2="429.05" stroke="#8a2b12" stroke-width="2.0" />
<path d="M959.70,425.65 L967.20,429.05 L959.70,432.45 Z" fill="#8a2b12" />
<path d="M890.00,444.10 L894.00,437.10 L898.00,444.10 Z" fill="#231f20" />
<line x1="926.00" y1="441.40" x2="946.70" y2="441.40" stroke="#8a2b12" stroke-width="2.0" />
<path d="M945.70,438.00 L953.20,441.40 L945.70,444.80 Z" fill="#8a2b12" />
<circle cx="912.00" cy="453.25" r="3.60" fill="#231f20" />
<path d="M944.1999999999999,456.85 L948.4,449.45 L952.6,456.85 Z" fill="none" stroke="#a0503a" stroke-width="1.3" />
<path d="M812.00,468.80 L816.00,461.80 L820.00,468.80 Z" fill="#231f20" />
<path d="M885.0,469.20000000000005 L889.2,461.8 L893.4000000000001,469.20000000000005 Z" fill="none" stroke="#a0503a" stroke-width="1.3" />
<path d="M801.20,481.15 L805.20,474.15 L809.20,481.15 Z" fill="#231f20" />
<line x1="881.20" y1="478.45" x2="901.50" y2="478.45" stroke="#8a2b12" stroke-width="2.0" />
<path d="M900.50,475.05 L908.00,478.45 L900.50,481.85 Z" fill="#8a2b12" />
<path d="M722.00,493.50 L726.00,486.50 L730.00,493.50 Z" fill="#231f20" />
<line x1="873.20" y1="490.80" x2="893.50" y2="490.80" stroke="#8a2b12" stroke-width="2.0" />
<path d="M892.50,487.40 L900.00,490.80 L892.50,494.20 Z" fill="#8a2b12" />
<path d="M858.5999999999999,506.25 L862.8,498.84999999999997 L867.0,506.25 Z" fill="none" stroke="#a0503a" stroke-width="1.3" />
<path d="M716.00,518.20 L720.00,511.20 L724.00,518.20 Z" fill="#231f20" />
<line x1="852.00" y1="515.50" x2="872.30" y2="515.50" stroke="#8a2b12" stroke-width="2.0" />
<path d="M871.30,512.10 L878.80,515.50 L871.30,518.90 Z" fill="#8a2b12" />
<path d="M740.80,530.55 L744.80,523.55 L748.80,530.55 Z" fill="#231f20" />
<line x1="852.00" y1="527.85" x2="872.30" y2="527.85" stroke="#8a2b12" stroke-width="2.0" />
<path d="M871.30,524.45 L878.80,527.85 L871.30,531.25 Z" fill="#8a2b12" />
<path d="M721.20,542.90 L725.20,535.90 L729.20,542.90 Z" fill="#231f20" />
<circle cx="842.80" cy="539.70" r="3.60" fill="#231f20" />
<circle cx="836.80" cy="552.05" r="3.60" fill="#231f20" />
<path d="M860.5999999999999,555.65 L864.8,548.25 L869.0,555.65 Z" fill="none" stroke="#a0503a" stroke-width="1.3" />
<path d="M742.80,579.95 L746.80,572.95 L750.80,579.95 Z" fill="#231f20" />
<line x1="824.80" y1="577.25" x2="845.50" y2="577.25" stroke="#8a2b12" stroke-width="2.0" />
<path d="M844.50,573.85 L852.00,577.25 L844.50,580.65 Z" fill="#8a2b12" />
<circle cx="818.80" cy="589.10" r="3.60" fill="#231f20" />
<path d="M837.0,592.7 L841.2,585.3000000000001 L845.4000000000001,592.7 Z" fill="none" stroke="#a0503a" stroke-width="1.3" />
<path d="M764.00,604.65 L768.00,597.65 L772.00,604.65 Z" fill="#231f20" />
<path d="M802.5999999999999,605.0500000000001 L806.8,597.6500000000001 L811.0,605.0500000000001 Z" fill="none" stroke="#a0503a" stroke-width="1.3" />
<circle cx="805.20" cy="613.80" r="3.60" fill="#231f20" />
<path d="M857.0,617.4 L861.2,610.0 L865.4000000000001,617.4 Z" fill="none" stroke="#a0503a" stroke-width="1.3" />
<circle cx="802.00" cy="626.15" r="3.60" fill="#231f20" />
<path d="M821.8,629.7500000000001 L826,622.3500000000001 L830.2,629.7500000000001 Z" fill="none" stroke="#a0503a" stroke-width="1.3" />
<path d="M724.80,641.70 L728.80,634.70 L732.80,641.70 Z" fill="#231f20" />
<path d="M761.20,654.05 L765.20,647.05 L769.20,654.05 Z" fill="#231f20" />
<circle cx="791.50" cy="650.85" r="3.60" fill="#231f20" />
<path d="M720.00,666.40 L724.00,659.40 L728.00,666.40 Z" fill="#231f20" />
<circle cx="784.00" cy="663.20" r="3.60" fill="#231f20" />
<path d="M781.3,666.8000000000001 L785.5,659.4000000000001 L789.7,666.8000000000001 Z" fill="none" stroke="#a0503a" stroke-width="1.3" />
<path d="M740.00,678.75 L744.00,671.75 L748.00,678.75 Z" fill="#231f20" />
<path d="M759.3,679.15 L763.5,671.75 L767.7,679.15 Z" fill="none" stroke="#a0503a" stroke-width="1.3" />
<line x1="690.50" y1="331.00" x2="690.50" y2="688.00" stroke="#555" stroke-width="1.2" />
<line x1="690.50" y1="687.50" x2="1148.00" y2="687.50" stroke="#555" stroke-width="1.2" />
<line x1="690.50" y1="687.50" x2="690.50" y2="692.00" stroke="#555" stroke-width="1.2" />
<text x="690.50" y="709.20" font-size="11.5" text-anchor="middle" >0</text>
<line x1="779.24" y1="687.50" x2="779.24" y2="692.00" stroke="#555" stroke-width="1.2" />
<text x="779.24" y="709.20" font-size="11.5" text-anchor="middle" >6</text>
<line x1="867.98" y1="687.50" x2="867.98" y2="692.00" stroke="#555" stroke-width="1.2" />
<text x="867.98" y="709.20" font-size="11.5" text-anchor="middle" >12</text>
<line x1="956.72" y1="687.50" x2="956.72" y2="692.00" stroke="#555" stroke-width="1.2" />
<text x="956.72" y="709.20" font-size="11.5" text-anchor="middle" >18</text>
<line x1="1045.46" y1="687.50" x2="1045.46" y2="692.00" stroke="#555" stroke-width="1.2" />
<text x="1045.46" y="709.20" font-size="11.5" text-anchor="middle" >24</text>
<line x1="1134.20" y1="687.50" x2="1134.20" y2="692.00" stroke="#555" stroke-width="1.2" />
<text x="1134.20" y="709.20" font-size="11.5" text-anchor="middle" >30</text>
<text x="810.80" y="729.20" font-size="14" textLength="217.20" lengthAdjust="spacingAndGlyphs" >Time since enrollment (months)</text>
<text x="651.70" y="548.40" font-size="14.5" textLength="79.40" lengthAdjust="spacingAndGlyphs" transform="rotate(-90 651.70 548.40)" >Participants</text>
<rect x="988.00" y="533.00" width="13.00" height="12.60" fill="#e6906c" />
<rect x="1043.40" y="533.00" width="13.20" height="12.60" fill="#67ac9e" />
<rect x="1100.60" y="533.00" width="13.00" height="12.60" fill="#98cbdd" />
<text x="1008.00" y="544.40" font-size="13.5" textLength="19.00" lengthAdjust="spacingAndGlyphs" >CR</text>
<text x="1062.40" y="544.40" font-size="13.5" textLength="16.00" lengthAdjust="spacingAndGlyphs" >PR</text>
<text x="1119.40" y="544.40" font-size="13.5" textLength="19.00" lengthAdjust="spacingAndGlyphs" >SD</text>
<circle cx="995.40" cy="562.00" r="3.40" fill="#231f20" />
<text x="1005.60" y="567.40" font-size="14" textLength="72.80" lengthAdjust="spacingAndGlyphs" >Time of PD</text>
<path d="M991.40,584.10 L995.40,577.10 L999.40,584.10 Z" fill="#231f20" />
<text x="1005.60" y="585.40" font-size="14" textLength="71.40" lengthAdjust="spacingAndGlyphs" >Time of PR</text>
<path d="M991.8,597.8 L995.4,594.1999999999999 L999.0,597.8 L995.4,601.4 Z" fill="#231f20" />
<text x="1005.60" y="602.40" font-size="14" textLength="73.40" lengthAdjust="spacingAndGlyphs" >Time of CR</text>
<rect x="992.20" y="609.00" width="4.60" height="12.60" fill="#8a2b12" />
<text x="1005.60" y="620.00" font-size="14" textLength="156.00" lengthAdjust="spacingAndGlyphs" >Complete of treatment</text>
<line x1="972.40" y1="636.60" x2="992.40" y2="636.60" stroke="#8a2b12" stroke-width="2.0" />
<path d="M991.40,633.20 L999.40,636.60 L991.40,640.00 Z" fill="#8a2b12" />
<text x="1004.40" y="641.00" font-size="14" textLength="126.60" lengthAdjust="spacingAndGlyphs" >Ongoing response</text>
<path d="M991.0,660.9 L995.2,653.9 L999.4000000000001,660.9 Z" fill="none" stroke="#a0503a" stroke-width="1.3" />
<text x="1005.00" y="661.60" font-size="14" textLength="93.00" lengthAdjust="spacingAndGlyphs" >Time of death</text>
<text x="0" y="0" transform="translate(631.01 746.50) scale(1.1 1)" font-size="25.5" font-weight="bold" fill="#000" stroke="#000" stroke-width="0.7">e</text>
<rect x="699.50" y="841.60" width="12.60" height="15.90" fill="#98cbdd" />
<text x="709.70" y="835.20" font-size="13" textLength="20.40" lengthAdjust="spacingAndGlyphs" transform="rotate(-90 709.70 835.20)" >P04</text>
<rect x="715.08" y="841.60" width="12.60" height="29.15" fill="#98cbdd" />
<text x="725.28" y="835.20" font-size="13" textLength="19.60" lengthAdjust="spacingAndGlyphs" transform="rotate(-90 725.28 835.20)" >P27</text>
<rect x="730.66" y="841.60" width="12.60" height="39.15" fill="#98cbdd" />
<text x="740.86" y="835.20" font-size="13" textLength="17.40" lengthAdjust="spacingAndGlyphs" transform="rotate(-90 740.86 835.20)" >P12</text>
<rect x="746.24" y="841.60" width="12.60" height="48.40" fill="#98cbdd" />
<text x="756.44" y="835.20" font-size="13" textLength="19.60" lengthAdjust="spacingAndGlyphs" transform="rotate(-90 756.44 835.20)" >P23</text>
<rect x="761.82" y="841.60" width="12.60" height="50.15" fill="#98cbdd" />
<text x="772.02" y="835.20" font-size="13" textLength="19.60" lengthAdjust="spacingAndGlyphs" transform="rotate(-90 772.02 835.20)" >P24</text>
<rect x="777.40" y="841.60" width="12.60" height="50.40" fill="#98cbdd" />
<text x="787.60" y="835.20" font-size="13" textLength="17.40" lengthAdjust="spacingAndGlyphs" transform="rotate(-90 787.60 835.20)" >P13</text>
<rect x="792.98" y="841.60" width="12.60" height="51.40" fill="#98cbdd" />
<text x="803.18" y="835.20" font-size="13" textLength="20.40" lengthAdjust="spacingAndGlyphs" transform="rotate(-90 803.18 835.20)" >P07</text>
<rect x="808.56" y="841.60" width="12.60" height="57.10" fill="#67ac9e" />
<text x="818.76" y="835.20" font-size="13" textLength="19.60" lengthAdjust="spacingAndGlyphs" transform="rotate(-90 818.76 835.20)" >P22</text>
<rect x="824.14" y="841.60" width="12.60" height="60.40" fill="#67ac9e" />
<text x="834.34" y="835.20" font-size="13" textLength="18.20" lengthAdjust="spacingAndGlyphs" transform="rotate(-90 834.34 835.20)" >P10</text>
<rect x="839.72" y="841.60" width="12.60" height="62.20" fill="#67ac9e" />
<text x="849.92" y="835.20" font-size="13" textLength="17.40" lengthAdjust="spacingAndGlyphs" transform="rotate(-90 849.92 835.20)" >P15</text>
<rect x="855.30" y="841.60" width="12.60" height="65.10" fill="#67ac9e" />
<text x="865.50" y="835.20" font-size="13" textLength="17.40" lengthAdjust="spacingAndGlyphs" transform="rotate(-90 865.50 835.20)" >P21</text>
<rect x="870.88" y="841.60" width="12.60" height="68.10" fill="#67ac9e" />
<text x="881.08" y="835.20" font-size="13" textLength="17.40" lengthAdjust="spacingAndGlyphs" transform="rotate(-90 881.08 835.20)" >P19</text>
<rect x="886.46" y="841.60" width="12.60" height="72.60" fill="#67ac9e" />
<text x="896.66" y="835.20" font-size="13" textLength="20.40" lengthAdjust="spacingAndGlyphs" transform="rotate(-90 896.66 835.20)" >P06</text>
<rect x="902.04" y="841.60" width="12.60" height="75.50" fill="#67ac9e" />
<text x="912.24" y="835.20" font-size="13" textLength="17.40" lengthAdjust="spacingAndGlyphs" transform="rotate(-90 912.24 835.20)" >P16</text>
<rect x="917.62" y="841.60" width="12.60" height="78.40" fill="#67ac9e" />
<text x="927.82" y="835.20" font-size="13" textLength="20.40" lengthAdjust="spacingAndGlyphs" transform="rotate(-90 927.82 835.20)" >P02</text>
<rect x="933.20" y="841.60" width="12.60" height="80.20" fill="#67ac9e" />
<text x="943.40" y="835.20" font-size="13" textLength="18.20" lengthAdjust="spacingAndGlyphs" transform="rotate(-90 943.40 835.20)" >P01</text>
<rect x="948.78" y="841.60" width="12.60" height="82.10" fill="#67ac9e" />
<text x="958.98" y="835.20" font-size="13" textLength="20.40" lengthAdjust="spacingAndGlyphs" transform="rotate(-90 958.98 835.20)" >P05</text>
<rect x="964.36" y="841.60" width="12.60" height="82.60" fill="#67ac9e" />
<text x="974.56" y="835.20" font-size="13" textLength="17.40" lengthAdjust="spacingAndGlyphs" transform="rotate(-90 974.56 835.20)" >P17</text>
<rect x="979.94" y="841.60" width="12.60" height="84.20" fill="#67ac9e" />
<text x="990.14" y="835.20" font-size="13" textLength="15.20" lengthAdjust="spacingAndGlyphs" transform="rotate(-90 990.14 835.20)" >P11</text>
<rect x="995.52" y="841.60" width="12.60" height="98.40" fill="#67ac9e" />
<text x="1005.72" y="835.20" font-size="13" textLength="19.60" lengthAdjust="spacingAndGlyphs" transform="rotate(-90 1005.72 835.20)" >P25</text>
<rect x="1011.10" y="841.60" width="12.60" height="99.10" fill="#67ac9e" />
<text x="1021.30" y="835.20" font-size="13" textLength="17.40" lengthAdjust="spacingAndGlyphs" transform="rotate(-90 1021.30 835.20)" >P18</text>
<rect x="1026.68" y="841.60" width="12.60" height="99.40" fill="#67ac9e" />
<text x="1036.88" y="835.20" font-size="13" textLength="17.40" lengthAdjust="spacingAndGlyphs" transform="rotate(-90 1036.88 835.20)" >P14</text>
<rect x="1042.26" y="841.60" width="12.60" height="111.70" fill="#67ac9e" />
<text x="1052.46" y="835.20" font-size="13" textLength="20.40" lengthAdjust="spacingAndGlyphs" transform="rotate(-90 1052.46 835.20)" >P08</text>
<rect x="1057.84" y="841.60" width="12.60" height="123.40" fill="#67ac9e" />
<text x="1068.04" y="835.20" font-size="13" textLength="20.40" lengthAdjust="spacingAndGlyphs" transform="rotate(-90 1068.04 835.20)" >P20</text>
<rect x="1073.42" y="841.60" width="12.60" height="125.70" fill="#67ac9e" />
<text x="1083.62" y="835.20" font-size="13" textLength="19.60" lengthAdjust="spacingAndGlyphs" transform="rotate(-90 1083.62 835.20)" >P26</text>
<rect x="1089.00" y="841.60" width="12.60" height="127.40" fill="#e6906c" />
<text x="1099.20" y="835.20" font-size="13" textLength="20.40" lengthAdjust="spacingAndGlyphs" transform="rotate(-90 1099.20 835.20)" >P09</text>
<rect x="1104.58" y="841.60" width="12.60" height="150.20" fill="#67ac9e" />
<text x="1114.78" y="835.20" font-size="13" textLength="19.60" lengthAdjust="spacingAndGlyphs" transform="rotate(-90 1114.78 835.20)" >P28</text>
<rect x="1120.16" y="841.60" width="12.60" height="171.90" fill="#e6906c" />
<text x="1130.36" y="835.20" font-size="13" textLength="20.40" lengthAdjust="spacingAndGlyphs" transform="rotate(-90 1130.36 835.20)" >P03</text>
<line x1="694.50" y1="807.20" x2="1151.00" y2="807.20" stroke="#111" stroke-width="1.5" stroke-dasharray="5.4 5.3"/>
<line x1="694.50" y1="893.40" x2="1151.00" y2="893.40" stroke="#111" stroke-width="1.5" stroke-dasharray="5.4 5.3"/>
<line x1="694.30" y1="760.50" x2="694.30" y2="1025.40" stroke="#555" stroke-width="1.2" />
<line x1="687.40" y1="772.70" x2="694.30" y2="772.70" stroke="#555" stroke-width="1.2" />
<text x="680.10" y="777.80" font-size="11.5" text-anchor="end" >40</text>
<line x1="687.40" y1="807.00" x2="694.30" y2="807.00" stroke="#555" stroke-width="1.2" />
<text x="680.10" y="812.10" font-size="11.5" text-anchor="end" >20</text>
<line x1="687.40" y1="841.50" x2="694.30" y2="841.50" stroke="#555" stroke-width="1.2" />
<text x="680.10" y="846.60" font-size="11.5" text-anchor="end" >0</text>
<line x1="687.40" y1="875.50" x2="694.30" y2="875.50" stroke="#555" stroke-width="1.2" />
<text x="680.10" y="880.60" font-size="11.5" text-anchor="end" >−20</text>
<line x1="687.40" y1="910.00" x2="694.30" y2="910.00" stroke="#555" stroke-width="1.2" />
<text x="680.10" y="915.10" font-size="11.5" text-anchor="end" >−40</text>
<line x1="687.40" y1="944.40" x2="694.30" y2="944.40" stroke="#555" stroke-width="1.2" />
<text x="680.10" y="949.50" font-size="11.5" text-anchor="end" >−60</text>
<line x1="687.40" y1="978.90" x2="694.30" y2="978.90" stroke="#555" stroke-width="1.2" />
<text x="680.10" y="984.00" font-size="11.5" text-anchor="end" >−80</text>
<line x1="687.40" y1="1013.70" x2="694.30" y2="1013.70" stroke="#555" stroke-width="1.2" />
<text x="680.10" y="1018.80" font-size="11.5" text-anchor="end" >−100</text>
<text x="645.00" y="1018.90" font-size="15" textLength="253.50" lengthAdjust="spacingAndGlyphs" transform="rotate(-90 645.00 1018.90)" >Best tumor change from baseline (%)</text>
<text x="1092.70" y="989.00" font-size="10" text-anchor="middle" >*</text>
<rect x="967.00" y="763.80" width="13.00" height="13.10" fill="#e6906c" />
<rect x="1023.60" y="763.80" width="13.00" height="13.10" fill="#67ac9e" />
<rect x="1083.00" y="763.80" width="13.00" height="13.10" fill="#98cbdd" />
<text x="988.30" y="775.90" font-size="13.5" textLength="19.00" lengthAdjust="spacingAndGlyphs" >CR</text>
<text x="1043.90" y="775.90" font-size="13.5" textLength="16.00" lengthAdjust="spacingAndGlyphs" >PR</text>
<text x="1101.90" y="775.90" font-size="13.5" textLength="19.00" lengthAdjust="spacingAndGlyphs" >SD</text>
<line x1="739.20" y1="931.30" x2="941.50" y2="931.30" stroke="#9a9a9a" stroke-width="1.2" />
<line x1="739.20" y1="945.80" x2="941.50" y2="945.80" stroke="#9a9a9a" stroke-width="1.2" />
<line x1="739.20" y1="1039.20" x2="941.50" y2="1039.20" stroke="#9a9a9a" stroke-width="1.2" />
<text x="865.80" y="943.30" font-size="11.5" textLength="62.60" lengthAdjust="spacingAndGlyphs" >RECIST v1.1</text>
<text x="787.20" y="958.30" font-size="11.5" text-anchor="middle" textLength="89.50" lengthAdjust="spacingAndGlyphs" >ORR, % (95% CI)</text>
<text x="893.75" y="958.30" font-size="11.5" text-anchor="middle" textLength="66.00" lengthAdjust="spacingAndGlyphs" >75% (59–91)</text>
<text x="787.20" y="973.30" font-size="11.5" text-anchor="middle" >CR</text>
<text x="890.40" y="973.30" font-size="11.5" text-anchor="middle" >2 (7%)</text>
<text x="787.20" y="988.70" font-size="11.5" text-anchor="middle" >PR</text>
<text x="891.10" y="988.70" font-size="11.5" text-anchor="middle" >19 (68%)</text>
<text x="787.20" y="1004.20" font-size="11.5" text-anchor="middle" >SD</text>
<text x="890.80" y="1004.20" font-size="11.5" text-anchor="middle" >7 (25%)</text>
<text x="787.20" y="1019.20" font-size="11.5" text-anchor="middle" >PD</text>
<text x="890.75" y="1019.20" font-size="11.5" text-anchor="middle" >0</text>
<text x="787.20" y="1034.20" font-size="11.5" text-anchor="middle" textLength="89.50" lengthAdjust="spacingAndGlyphs" >DCR, % (95% CI)</text>
<text x="897.50" y="1034.20" font-size="11.5" text-anchor="middle" textLength="87.70" lengthAdjust="spacingAndGlyphs" >100% (100–100)</text>
<text x="0" y="0" transform="translate(-0.44 1077.90) scale(1.1 1)" font-size="25.5" font-weight="bold" fill="#000" stroke="#000" stroke-width="0.7">f</text>
<line x1="62.10" y1="1113.00" x2="518.00" y2="1113.00" stroke="#111" stroke-width="1.5" stroke-dasharray="5.4 5.3"/>
<line x1="62.10" y1="1189.20" x2="518.00" y2="1189.20" stroke="#111" stroke-width="1.5" stroke-dasharray="5.4 5.3"/>
<line x1="62.10" y1="1142.70" x2="522.00" y2="1142.70" stroke="#111" stroke-width="1.5" />
<polyline points="62.10,1142.70 95.10,1120.12 131.10,1154.74 159.60,1142.70 233.10,1166.03 263.10,1195.38 291.60,1184.09 321.60,1187.10 342.60,1189.36" fill="none" stroke="#67ac9e" stroke-width="1.9" stroke-linejoin="round"/>
<circle cx="95.10" cy="1120.12" r="2.00" fill="#67ac9e" />
<circle cx="131.10" cy="1154.74" r="2.00" fill="#67ac9e" />
<circle cx="159.60" cy="1142.70" r="2.00" fill="#67ac9e" />
<circle cx="233.10" cy="1166.03" r="2.00" fill="#67ac9e" />
<circle cx="263.10" cy="1195.38" r="2.00" fill="#67ac9e" />
<circle cx="291.60" cy="1184.09" r="2.00" fill="#67ac9e" />
<circle cx="321.60" cy="1187.10" r="2.00" fill="#67ac9e" />
<circle cx="342.60" cy="1189.36" r="2.00" fill="#67ac9e" />
<polyline points="62.10,1142.70 95.10,1140.44 179.10,1273.63 197.10,1276.64" fill="none" stroke="#67ac9e" stroke-width="1.9" stroke-linejoin="round"/>
<circle cx="95.10" cy="1140.44" r="2.00" fill="#67ac9e" />
<circle cx="179.10" cy="1273.63" r="2.00" fill="#67ac9e" />
<circle cx="197.10" cy="1276.64" r="2.00" fill="#67ac9e" />
<polyline points="62.10,1142.70 98.10,1244.29 122.85,1252.57 144.60,1248.05 171.60,1251.66 203.10,1254.82 224.10,1252.57" fill="none" stroke="#67ac9e" stroke-width="1.9" stroke-linejoin="round"/>
<circle cx="98.10" cy="1244.29" r="2.00" fill="#67ac9e" />
<circle cx="122.85" cy="1252.57" r="2.00" fill="#67ac9e" />
<circle cx="144.60" cy="1248.05" r="2.00" fill="#67ac9e" />
<circle cx="171.60" cy="1251.66" r="2.00" fill="#67ac9e" />
<circle cx="203.10" cy="1254.82" r="2.00" fill="#67ac9e" />
<circle cx="224.10" cy="1252.57" r="2.00" fill="#67ac9e" />
<polyline points="62.10,1142.70 98.10,1212.53 116.10,1217.65 146.10,1221.86 168.60,1229.24 180.60,1223.07 206.10,1223.97 224.10,1231.19 246.60,1229.24" fill="none" stroke="#67ac9e" stroke-width="1.9" stroke-linejoin="round"/>
<circle cx="98.10" cy="1212.53" r="2.00" fill="#67ac9e" />
<circle cx="116.10" cy="1217.65" r="2.00" fill="#67ac9e" />
<circle cx="146.10" cy="1221.86" r="2.00" fill="#67ac9e" />
<circle cx="168.60" cy="1229.24" r="2.00" fill="#67ac9e" />
<circle cx="180.60" cy="1223.07" r="2.00" fill="#67ac9e" />
<circle cx="206.10" cy="1223.97" r="2.00" fill="#67ac9e" />
<circle cx="224.10" cy="1231.19" r="2.00" fill="#67ac9e" />
<circle cx="246.60" cy="1229.24" r="2.00" fill="#67ac9e" />
<polyline points="62.10,1142.70 92.10,1192.37 122.10,1196.88 182.10,1196.88 242.10,1198.38 287.10,1199.89 332.10,1199.89 363.60,1202.15 396.60,1207.41 425.10,1207.72 441.60,1207.72" fill="none" stroke="#67ac9e" stroke-width="1.9" stroke-linejoin="round"/>
<circle cx="92.10" cy="1192.37" r="2.00" fill="#67ac9e" />
<circle cx="122.10" cy="1196.88" r="2.00" fill="#67ac9e" />
<circle cx="182.10" cy="1196.88" r="2.00" fill="#67ac9e" />
<circle cx="242.10" cy="1198.38" r="2.00" fill="#67ac9e" />
<circle cx="287.10" cy="1199.89" r="2.00" fill="#67ac9e" />
<circle cx="332.10" cy="1199.89" r="2.00" fill="#67ac9e" />
<circle cx="363.60" cy="1202.15" r="2.00" fill="#67ac9e" />
<circle cx="396.60" cy="1207.41" r="2.00" fill="#67ac9e" />
<circle cx="425.10" cy="1207.72" r="2.00" fill="#67ac9e" />
<circle cx="441.60" cy="1207.72" r="2.00" fill="#67ac9e" />
<polyline points="62.10,1142.70 92.10,1187.85 137.10,1199.89 212.10,1210.42 287.10,1214.94 317.10,1208.92 332.10,1199.89 356.10,1192.37" fill="none" stroke="#67ac9e" stroke-width="1.9" stroke-linejoin="round"/>
<circle cx="92.10" cy="1187.85" r="2.00" fill="#67ac9e" />
<circle cx="137.10" cy="1199.89" r="2.00" fill="#67ac9e" />
<circle cx="212.10" cy="1210.42" r="2.00" fill="#67ac9e" />
<circle cx="287.10" cy="1214.94" r="2.00" fill="#67ac9e" />
<circle cx="317.10" cy="1208.92" r="2.00" fill="#67ac9e" />
<circle cx="332.10" cy="1199.89" r="2.00" fill="#67ac9e" />
<circle cx="356.10" cy="1192.37" r="2.00" fill="#67ac9e" />
<polyline points="62.10,1142.70 99.60,1199.89 152.10,1205.91 212.10,1208.92 257.10,1210.42 314.10,1216.44" fill="none" stroke="#67ac9e" stroke-width="1.9" stroke-linejoin="round"/>
<circle cx="99.60" cy="1199.89" r="2.00" fill="#67ac9e" />
<circle cx="152.10" cy="1205.91" r="2.00" fill="#67ac9e" />
<circle cx="212.10" cy="1208.92" r="2.00" fill="#67ac9e" />
<circle cx="257.10" cy="1210.42" r="2.00" fill="#67ac9e" />
<circle cx="314.10" cy="1216.44" r="2.00" fill="#67ac9e" />
<polyline points="62.10,1142.70 92.10,1196.88 137.10,1202.90 197.10,1210.42 242.10,1211.93 324.60,1216.44" fill="none" stroke="#67ac9e" stroke-width="1.9" stroke-linejoin="round"/>
<circle cx="92.10" cy="1196.88" r="2.00" fill="#67ac9e" />
<circle cx="137.10" cy="1202.90" r="2.00" fill="#67ac9e" />
<circle cx="197.10" cy="1210.42" r="2.00" fill="#67ac9e" />
<circle cx="242.10" cy="1211.93" r="2.00" fill="#67ac9e" />
<circle cx="324.60" cy="1216.44" r="2.00" fill="#67ac9e" />
<polyline points="62.10,1142.70 92.10,1187.85 137.10,1195.38 197.10,1202.90 264.60,1222.47 291.60,1225.48 309.60,1229.99" fill="none" stroke="#67ac9e" stroke-width="1.9" stroke-linejoin="round"/>
<circle cx="92.10" cy="1187.85" r="2.00" fill="#67ac9e" />
<circle cx="137.10" cy="1195.38" r="2.00" fill="#67ac9e" />
<circle cx="197.10" cy="1202.90" r="2.00" fill="#67ac9e" />
<circle cx="264.60" cy="1222.47" r="2.00" fill="#67ac9e" />
<circle cx="291.60" cy="1225.48" r="2.00" fill="#67ac9e" />
<circle cx="309.60" cy="1229.99" r="2.00" fill="#67ac9e" />
<polyline points="62.10,1142.70 92.10,1184.84 152.10,1190.86 197.10,1193.87 242.10,1196.88 272.10,1196.88 296.10,1198.38" fill="none" stroke="#67ac9e" stroke-width="1.9" stroke-linejoin="round"/>
<circle cx="92.10" cy="1184.84" r="2.00" fill="#67ac9e" />
<circle cx="152.10" cy="1190.86" r="2.00" fill="#67ac9e" />
<circle cx="197.10" cy="1193.87" r="2.00" fill="#67ac9e" />
<circle cx="242.10" cy="1196.88" r="2.00" fill="#67ac9e" />
<circle cx="272.10" cy="1196.88" r="2.00" fill="#67ac9e" />
<circle cx="296.10" cy="1198.38" r="2.00" fill="#67ac9e" />
<polyline points="62.10,1142.70 99.60,1199.89 141.60,1242.03 197.10,1208.92 242.10,1180.33 264.60,1195.38" fill="none" stroke="#67ac9e" stroke-width="1.9" stroke-linejoin="round"/>
<circle cx="99.60" cy="1199.89" r="2.00" fill="#67ac9e" />
<circle cx="141.60" cy="1242.03" r="2.00" fill="#67ac9e" />
<circle cx="197.10" cy="1208.92" r="2.00" fill="#67ac9e" />
<circle cx="242.10" cy="1180.33" r="2.00" fill="#67ac9e" />
<circle cx="264.60" cy="1195.38" r="2.00" fill="#67ac9e" />
<polyline points="62.10,1142.70 95.10,1202.90 129.60,1233.00 167.10,1251.06 195.60,1252.57 219.60,1242.78" fill="none" stroke="#67ac9e" stroke-width="1.9" stroke-linejoin="round"/>
<circle cx="95.10" cy="1202.90" r="2.00" fill="#67ac9e" />
<circle cx="129.60" cy="1233.00" r="2.00" fill="#67ac9e" />
<circle cx="167.10" cy="1251.06" r="2.00" fill="#67ac9e" />
<circle cx="195.60" cy="1252.57" r="2.00" fill="#67ac9e" />
<circle cx="219.60" cy="1242.78" r="2.00" fill="#67ac9e" />
<polyline points="62.10,1142.70 92.10,1195.38 122.10,1202.90 152.10,1205.91 182.10,1208.92 221.10,1214.19" fill="none" stroke="#67ac9e" stroke-width="1.9" stroke-linejoin="round"/>
<circle cx="92.10" cy="1195.38" r="2.00" fill="#67ac9e" />
<circle cx="122.10" cy="1202.90" r="2.00" fill="#67ac9e" />
<circle cx="152.10" cy="1205.91" r="2.00" fill="#67ac9e" />
<circle cx="182.10" cy="1208.92" r="2.00" fill="#67ac9e" />
<circle cx="221.10" cy="1214.19" r="2.00" fill="#67ac9e" />
<polyline points="62.10,1142.70 95.10,1172.80 125.10,1184.84 164.10,1199.89 204.60,1210.42 219.60,1213.43" fill="none" stroke="#67ac9e" stroke-width="1.9" stroke-linejoin="round"/>
<circle cx="95.10" cy="1172.80" r="2.00" fill="#67ac9e" />
<circle cx="125.10" cy="1184.84" r="2.00" fill="#67ac9e" />
<circle cx="164.10" cy="1199.89" r="2.00" fill="#67ac9e" />
<circle cx="204.60" cy="1210.42" r="2.00" fill="#67ac9e" />
<circle cx="219.60" cy="1213.43" r="2.00" fill="#67ac9e" />
<polyline points="62.10,1142.70 89.10,1180.33 114.60,1190.86 140.10,1199.89 174.60,1205.91 221.10,1214.94" fill="none" stroke="#67ac9e" stroke-width="1.9" stroke-linejoin="round"/>
<circle cx="89.10" cy="1180.33" r="2.00" fill="#67ac9e" />
<circle cx="114.60" cy="1190.86" r="2.00" fill="#67ac9e" />
<circle cx="140.10" cy="1199.89" r="2.00" fill="#67ac9e" />
<circle cx="174.60" cy="1205.91" r="2.00" fill="#67ac9e" />
<circle cx="221.10" cy="1214.94" r="2.00" fill="#67ac9e" />
<polyline points="62.10,1142.70 92.10,1205.91 137.10,1210.42 182.10,1211.93 215.10,1214.94" fill="none" stroke="#67ac9e" stroke-width="1.9" stroke-linejoin="round"/>
<circle cx="92.10" cy="1205.91" r="2.00" fill="#67ac9e" />
<circle cx="137.10" cy="1210.42" r="2.00" fill="#67ac9e" />
<circle cx="182.10" cy="1211.93" r="2.00" fill="#67ac9e" />
<circle cx="215.10" cy="1214.94" r="2.00" fill="#67ac9e" />
<polyline points="62.10,1142.70 96.60,1217.95 122.10,1222.47 152.10,1222.47 182.10,1223.97 212.10,1225.48" fill="none" stroke="#67ac9e" stroke-width="1.9" stroke-linejoin="round"/>
<circle cx="96.60" cy="1217.95" r="2.00" fill="#67ac9e" />
<circle cx="122.10" cy="1222.47" r="2.00" fill="#67ac9e" />
<circle cx="152.10" cy="1222.47" r="2.00" fill="#67ac9e" />
<circle cx="182.10" cy="1223.97" r="2.00" fill="#67ac9e" />
<circle cx="212.10" cy="1225.48" r="2.00" fill="#67ac9e" />
<polyline points="62.10,1142.70 92.10,1175.81 119.10,1187.85 152.10,1195.38 189.60,1199.89 234.60,1202.90 272.10,1208.92 302.10,1211.93" fill="none" stroke="#67ac9e" stroke-width="1.9" stroke-linejoin="round"/>
<circle cx="92.10" cy="1175.81" r="2.00" fill="#67ac9e" />
<circle cx="119.10" cy="1187.85" r="2.00" fill="#67ac9e" />
<circle cx="152.10" cy="1195.38" r="2.00" fill="#67ac9e" />
<circle cx="189.60" cy="1199.89" r="2.00" fill="#67ac9e" />
<circle cx="234.60" cy="1202.90" r="2.00" fill="#67ac9e" />
<circle cx="272.10" cy="1208.92" r="2.00" fill="#67ac9e" />
<circle cx="302.10" cy="1211.93" r="2.00" fill="#67ac9e" />
<polyline points="62.10,1142.70 89.10,1172.80 122.10,1187.85 167.10,1192.37 212.10,1196.88 257.10,1202.90 309.60,1205.91 324.60,1216.44" fill="none" stroke="#67ac9e" stroke-width="1.9" stroke-linejoin="round"/>
<circle cx="89.10" cy="1172.80" r="2.00" fill="#67ac9e" />
<circle cx="122.10" cy="1187.85" r="2.00" fill="#67ac9e" />
<circle cx="167.10" cy="1192.37" r="2.00" fill="#67ac9e" />
<circle cx="212.10" cy="1196.88" r="2.00" fill="#67ac9e" />
<circle cx="257.10" cy="1202.90" r="2.00" fill="#67ac9e" />
<circle cx="309.60" cy="1205.91" r="2.00" fill="#67ac9e" />
<circle cx="324.60" cy="1216.44" r="2.00" fill="#67ac9e" />
<polyline points="62.10,1142.70 93.60,1178.82 128.10,1181.83 159.60,1189.36 197.10,1193.87 230.10,1187.85 254.10,1193.87" fill="none" stroke="#67ac9e" stroke-width="1.9" stroke-linejoin="round"/>
<circle cx="93.60" cy="1178.82" r="2.00" fill="#67ac9e" />
<circle cx="128.10" cy="1181.83" r="2.00" fill="#67ac9e" />
<circle cx="159.60" cy="1189.36" r="2.00" fill="#67ac9e" />
<circle cx="197.10" cy="1193.87" r="2.00" fill="#67ac9e" />
<circle cx="230.10" cy="1187.85" r="2.00" fill="#67ac9e" />
<circle cx="254.10" cy="1193.87" r="2.00" fill="#67ac9e" />
<polyline points="62.10,1142.70 95.10,1150.23 114.60,1156.25 137.10,1150.23 159.60,1144.21 179.10,1140.44" fill="none" stroke="#98cbdd" stroke-width="1.9" stroke-linejoin="round"/>
<circle cx="95.10" cy="1150.23" r="2.00" fill="#98cbdd" />
<circle cx="114.60" cy="1156.25" r="2.00" fill="#98cbdd" />
<circle cx="137.10" cy="1150.23" r="2.00" fill="#98cbdd" />
<circle cx="159.60" cy="1144.21" r="2.00" fill="#98cbdd" />
<circle cx="179.10" cy="1140.44" r="2.00" fill="#98cbdd" />
<polyline points="62.10,1142.70 92.10,1169.79 122.10,1175.81 152.10,1178.82 176.10,1175.81 185.10,1171.30 212.10,1114.86" fill="none" stroke="#98cbdd" stroke-width="1.9" stroke-linejoin="round"/>
<circle cx="92.10" cy="1169.79" r="2.00" fill="#98cbdd" />
<circle cx="122.10" cy="1175.81" r="2.00" fill="#98cbdd" />
<circle cx="152.10" cy="1178.82" r="2.00" fill="#98cbdd" />
<circle cx="176.10" cy="1175.81" r="2.00" fill="#98cbdd" />
<circle cx="185.10" cy="1171.30" r="2.00" fill="#98cbdd" />
<circle cx="212.10" cy="1114.86" r="2.00" fill="#98cbdd" />
<polyline points="62.10,1142.70 99.60,1159.26 126.60,1166.78 159.60,1171.30 186.60,1166.78 209.10,1159.26" fill="none" stroke="#98cbdd" stroke-width="1.9" stroke-linejoin="round"/>
<circle cx="99.60" cy="1159.26" r="2.00" fill="#98cbdd" />
<circle cx="126.60" cy="1166.78" r="2.00" fill="#98cbdd" />
<circle cx="159.60" cy="1171.30" r="2.00" fill="#98cbdd" />
<circle cx="186.60" cy="1166.78" r="2.00" fill="#98cbdd" />
<circle cx="209.10" cy="1159.26" r="2.00" fill="#98cbdd" />
<polyline points="62.10,1142.70 89.10,1175.81 122.10,1180.33 159.60,1183.34 204.60,1186.35 234.60,1186.35 272.10,1187.85" fill="none" stroke="#98cbdd" stroke-width="1.9" stroke-linejoin="round"/>
<circle cx="89.10" cy="1175.81" r="2.00" fill="#98cbdd" />
<circle cx="122.10" cy="1180.33" r="2.00" fill="#98cbdd" />
<circle cx="159.60" cy="1183.34" r="2.00" fill="#98cbdd" />
<circle cx="204.60" cy="1186.35" r="2.00" fill="#98cbdd" />
<circle cx="234.60" cy="1186.35" r="2.00" fill="#98cbdd" />
<circle cx="272.10" cy="1187.85" r="2.00" fill="#98cbdd" />
<polyline points="62.10,1142.70 92.10,1154.74 122.10,1163.77 152.10,1168.29 189.60,1175.81 219.60,1183.34 257.10,1186.35" fill="none" stroke="#98cbdd" stroke-width="1.9" stroke-linejoin="round"/>
<circle cx="92.10" cy="1154.74" r="2.00" fill="#98cbdd" />
<circle cx="122.10" cy="1163.77" r="2.00" fill="#98cbdd" />
<circle cx="152.10" cy="1168.29" r="2.00" fill="#98cbdd" />
<circle cx="189.60" cy="1175.81" r="2.00" fill="#98cbdd" />
<circle cx="219.60" cy="1183.34" r="2.00" fill="#98cbdd" />
<circle cx="257.10" cy="1186.35" r="2.00" fill="#98cbdd" />
<polyline points="62.10,1142.70 84.60,1172.80 107.10,1180.33 144.60,1178.82 182.10,1183.34 216.60,1184.84" fill="none" stroke="#98cbdd" stroke-width="1.9" stroke-linejoin="round"/>
<circle cx="84.60" cy="1172.80" r="2.00" fill="#98cbdd" />
<circle cx="107.10" cy="1180.33" r="2.00" fill="#98cbdd" />
<circle cx="144.60" cy="1178.82" r="2.00" fill="#98cbdd" />
<circle cx="182.10" cy="1183.34" r="2.00" fill="#98cbdd" />
<circle cx="216.60" cy="1184.84" r="2.00" fill="#98cbdd" />
<polyline points="62.10,1142.70 96.60,1160.76 120.60,1168.29 146.10,1174.31 164.10,1177.32 195.60,1163.77" fill="none" stroke="#98cbdd" stroke-width="1.9" stroke-linejoin="round"/>
<circle cx="96.60" cy="1160.76" r="2.00" fill="#98cbdd" />
<circle cx="120.60" cy="1168.29" r="2.00" fill="#98cbdd" />
<circle cx="146.10" cy="1174.31" r="2.00" fill="#98cbdd" />
<circle cx="164.10" cy="1177.32" r="2.00" fill="#98cbdd" />
<circle cx="195.60" cy="1163.77" r="2.00" fill="#98cbdd" />
<polyline points="62.10,1142.70 92.10,1195.38 114.60,1229.99 138.60,1248.05 200.10,1296.21 267.60,1296.21 296.10,1296.21 336.60,1296.21 362.10,1296.21 386.10,1296.21 411.60,1296.21 437.10,1296.21 491.10,1296.21" fill="none" stroke="#e6906c" stroke-width="1.9" stroke-linejoin="round"/>
<circle cx="92.10" cy="1195.38" r="2.00" fill="#e6906c" />
<circle cx="114.60" cy="1229.99" r="2.00" fill="#e6906c" />
<circle cx="138.60" cy="1248.05" r="2.00" fill="#e6906c" />
<circle cx="200.10" cy="1296.21" r="2.00" fill="#e6906c" />
<circle cx="267.60" cy="1296.21" r="2.00" fill="#e6906c" />
<circle cx="296.10" cy="1296.21" r="2.00" fill="#e6906c" />
<circle cx="336.60" cy="1296.21" r="2.00" fill="#e6906c" />
<circle cx="362.10" cy="1296.21" r="2.00" fill="#e6906c" />
<circle cx="386.10" cy="1296.21" r="2.00" fill="#e6906c" />
<circle cx="411.60" cy="1296.21" r="2.00" fill="#e6906c" />
<circle cx="437.10" cy="1296.21" r="2.00" fill="#e6906c" />
<circle cx="491.10" cy="1296.21" r="2.00" fill="#e6906c" />
<polyline points="62.10,1142.70 89.10,1199.89 114.60,1244.74 143.10,1239.62 174.60,1250.46 207.60,1252.11 248.10,1252.57 279.60,1254.07 314.10,1254.37 350.10,1253.32 386.10,1255.58 419.10,1253.77 441.60,1255.27" fill="none" stroke="#e6906c" stroke-width="1.9" stroke-linejoin="round"/>
<circle cx="89.10" cy="1199.89" r="2.00" fill="#e6906c" />
<circle cx="114.60" cy="1244.74" r="2.00" fill="#e6906c" />
<circle cx="143.10" cy="1239.62" r="2.00" fill="#e6906c" />
<circle cx="174.60" cy="1250.46" r="2.00" fill="#e6906c" />
<circle cx="207.60" cy="1252.11" r="2.00" fill="#e6906c" />
<circle cx="248.10" cy="1252.57" r="2.00" fill="#e6906c" />
<circle cx="279.60" cy="1254.07" r="2.00" fill="#e6906c" />
<circle cx="314.10" cy="1254.37" r="2.00" fill="#e6906c" />
<circle cx="350.10" cy="1253.32" r="2.00" fill="#e6906c" />
<circle cx="386.10" cy="1255.58" r="2.00" fill="#e6906c" />
<circle cx="419.10" cy="1253.77" r="2.00" fill="#e6906c" />
<circle cx="441.60" cy="1255.27" r="2.00" fill="#e6906c" />
<line x1="62.10" y1="1068.90" x2="62.10" y2="1307.00" stroke="#333" stroke-width="1.3" />
<line x1="62.10" y1="1306.50" x2="525.70" y2="1306.50" stroke="#333" stroke-width="1.3" />
<line x1="56.00" y1="1082.40" x2="62.10" y2="1082.40" stroke="#333" stroke-width="1.2" />
<text x="48.90" y="1086.90" font-size="11.5" text-anchor="end" >40</text>
<line x1="56.00" y1="1113.00" x2="62.10" y2="1113.00" stroke="#333" stroke-width="1.2" />
<text x="48.90" y="1117.50" font-size="11.5" text-anchor="end" >20</text>
<line x1="56.00" y1="1142.70" x2="62.10" y2="1142.70" stroke="#333" stroke-width="1.2" />
<text x="48.90" y="1147.20" font-size="11.5" text-anchor="end" >0</text>
<line x1="56.00" y1="1172.90" x2="62.10" y2="1172.90" stroke="#333" stroke-width="1.2" />
<text x="48.90" y="1177.40" font-size="11.5" text-anchor="end" >−20</text>
<line x1="56.00" y1="1203.00" x2="62.10" y2="1203.00" stroke="#333" stroke-width="1.2" />
<text x="48.90" y="1207.50" font-size="11.5" text-anchor="end" >−40</text>
<line x1="56.00" y1="1233.60" x2="62.10" y2="1233.60" stroke="#333" stroke-width="1.2" />
<text x="48.90" y="1238.10" font-size="11.5" text-anchor="end" >−60</text>
<line x1="56.00" y1="1263.80" x2="62.10" y2="1263.80" stroke="#333" stroke-width="1.2" />
<text x="48.90" y="1268.30" font-size="11.5" text-anchor="end" >−80</text>
<line x1="56.00" y1="1293.00" x2="62.10" y2="1293.00" stroke="#333" stroke-width="1.2" />
<text x="48.90" y="1297.50" font-size="11.5" text-anchor="end" >−100</text>
<line x1="63.20" y1="1306.50" x2="63.20" y2="1311.00" stroke="#333" stroke-width="1.2" />
<text x="63.20" y="1331.30" font-size="11.5" text-anchor="middle" >0</text>
<line x1="154.90" y1="1306.50" x2="154.90" y2="1311.00" stroke="#333" stroke-width="1.2" />
<text x="154.90" y="1331.30" font-size="11.5" text-anchor="middle" >6</text>
<line x1="246.40" y1="1306.50" x2="246.40" y2="1311.00" stroke="#333" stroke-width="1.2" />
<text x="246.40" y="1331.30" font-size="11.5" text-anchor="middle" >12</text>
<line x1="337.90" y1="1306.50" x2="337.90" y2="1311.00" stroke="#333" stroke-width="1.2" />
<text x="337.90" y="1331.30" font-size="11.5" text-anchor="middle" >18</text>
<line x1="429.70" y1="1306.50" x2="429.70" y2="1311.00" stroke="#333" stroke-width="1.2" />
<text x="429.70" y="1331.30" font-size="11.5" text-anchor="middle" >24</text>
<line x1="511.40" y1="1306.50" x2="511.40" y2="1311.00" stroke="#333" stroke-width="1.2" />
<text x="511.40" y="1331.30" font-size="11.5" text-anchor="middle" >30</text>
<text x="178.60" y="1352.00" font-size="14" textLength="218.50" lengthAdjust="spacingAndGlyphs" >Time since enrollment (months)</text>
<text x="13.40" y="1284.10" font-size="15" textLength="176.00" lengthAdjust="spacingAndGlyphs" transform="rotate(-90 13.40 1284.10)" >Change from baseline (%)</text>
<line x1="319.00" y1="1092.70" x2="329.00" y2="1092.70" stroke="#e6906c" stroke-width="2.4" />
<circle cx="324.00" cy="1092.70" r="2.60" fill="#e6906c" />
<line x1="392.40" y1="1092.70" x2="402.40" y2="1092.70" stroke="#67ac9e" stroke-width="2.4" />
<circle cx="397.40" cy="1092.70" r="2.60" fill="#67ac9e" />
<line x1="460.80" y1="1092.70" x2="470.80" y2="1092.70" stroke="#98cbdd" stroke-width="2.4" />
<circle cx="465.80" cy="1092.70" r="2.60" fill="#98cbdd" />
<text x="335.30" y="1097.30" font-size="13.5" textLength="19.00" lengthAdjust="spacingAndGlyphs" >CR</text>
<text x="407.30" y="1097.30" font-size="13.5" textLength="16.00" lengthAdjust="spacingAndGlyphs" >PR</text>
<text x="475.70" y="1097.30" font-size="13.5" textLength="19.00" lengthAdjust="spacingAndGlyphs" >SD</text>
<text x="0" y="0" transform="translate(555.81 1074.00) scale(1.1 1)" font-size="25.5" font-weight="bold" fill="#000" stroke="#000" stroke-width="0.7">g</text>
<line x1="618.70" y1="1082.70" x2="618.70" y2="1280.40" stroke="#333" stroke-width="1.3" />
<line x1="618.70" y1="1280.40" x2="875.20" y2="1280.40" stroke="#666" stroke-width="1.3" />
<line x1="611.90" y1="1091.60" x2="618.70" y2="1091.60" stroke="#333" stroke-width="1.2" />
<text x="602.40" y="1096.60" font-size="11.5" text-anchor="end" >100</text>
<line x1="611.90" y1="1136.40" x2="618.70" y2="1136.40" stroke="#333" stroke-width="1.2" />
<text x="602.40" y="1141.40" font-size="11.5" text-anchor="end" >75</text>
<line x1="611.90" y1="1182.00" x2="618.70" y2="1182.00" stroke="#333" stroke-width="1.2" />
<text x="602.40" y="1187.00" font-size="11.5" text-anchor="end" >50</text>
<line x1="611.90" y1="1227.40" x2="618.70" y2="1227.40" stroke="#333" stroke-width="1.2" />
<text x="602.40" y="1232.40" font-size="11.5" text-anchor="end" >25</text>
<line x1="611.90" y1="1278.00" x2="618.70" y2="1278.00" stroke="#333" stroke-width="1.2" />
<text x="602.40" y="1283.00" font-size="11.5" text-anchor="end" >0</text>
<line x1="630.10" y1="1280.40" x2="630.10" y2="1287.60" stroke="#666" stroke-width="1.2" />
<text x="630.10" y="1302.80" font-size="11.5" text-anchor="middle" >0</text>
<line x1="676.60" y1="1280.40" x2="676.60" y2="1287.60" stroke="#666" stroke-width="1.2" />
<text x="676.60" y="1302.80" font-size="11.5" text-anchor="middle" >6</text>
<line x1="723.30" y1="1280.40" x2="723.30" y2="1287.60" stroke="#666" stroke-width="1.2" />
<text x="723.30" y="1302.80" font-size="11.5" text-anchor="middle" >12</text>
<line x1="769.50" y1="1280.40" x2="769.50" y2="1287.60" stroke="#666" stroke-width="1.2" />
<text x="769.50" y="1302.80" font-size="11.5" text-anchor="middle" >18</text>
<line x1="816.30" y1="1280.40" x2="816.30" y2="1287.60" stroke="#666" stroke-width="1.2" />
<text x="816.30" y="1302.80" font-size="11.5" text-anchor="middle" >24</text>
<line x1="863.00" y1="1280.40" x2="863.00" y2="1287.60" stroke="#666" stroke-width="1.2" />
<text x="863.00" y="1302.80" font-size="11.5" text-anchor="middle" >30</text>
<text x="571.40" y="1282.50" font-size="15" textLength="192.80" lengthAdjust="spacingAndGlyphs" transform="rotate(-90 571.40 1282.50)" >Progression-free survival (%)</text>
<text x="700.00" y="1324.30" font-size="14.5" textLength="97.30" lengthAdjust="spacingAndGlyphs" >Time (months)</text>
<line x1="618.70" y1="1181.90" x2="761.00" y2="1181.90" stroke="#222" stroke-width="1.5" stroke-dasharray="5.4 5.3"/>
<line x1="761.00" y1="1181.90" x2="761.00" y2="1280.00" stroke="#222" stroke-width="1.5" stroke-dasharray="5.4 5.3"/>
<path d="M630.2,1091.6 H668.3 V1097.7 H678.9 V1104.4 H683 V1110.7 H688.3 V1117.3 H690 V1124.2 H690.8 V1131 H697.2 V1137.8 H705.2 V1145.5 H709.5 V1152.6 H720 V1161.1 H733.5 V1171.8 H744.9 V1181.8 H761 V1194.5 H780.9 V1213.8 H827.6 V1243.5 H847.5" fill="none" stroke="#e8906c" stroke-width="1.6" />
<line x1="683.10" y1="1105.70" x2="683.10" y2="1115.70" stroke="#f0b398" stroke-width="1.1" />
<line x1="697.80" y1="1132.80" x2="697.80" y2="1142.80" stroke="#f0b398" stroke-width="1.1" />
<line x1="711.40" y1="1147.60" x2="711.40" y2="1157.60" stroke="#f0b398" stroke-width="1.1" />
<line x1="723.60" y1="1156.10" x2="723.60" y2="1166.10" stroke="#f0b398" stroke-width="1.1" />
<line x1="727.60" y1="1156.10" x2="727.60" y2="1166.10" stroke="#f0b398" stroke-width="1.1" />
<line x1="751.10" y1="1176.80" x2="751.10" y2="1186.80" stroke="#f0b398" stroke-width="1.1" />
<line x1="759.00" y1="1176.80" x2="759.00" y2="1186.80" stroke="#f0b398" stroke-width="1.1" />
<line x1="764.70" y1="1189.50" x2="764.70" y2="1199.50" stroke="#f0b398" stroke-width="1.1" />
<line x1="771.00" y1="1189.50" x2="771.00" y2="1199.50" stroke="#f0b398" stroke-width="1.1" />
<line x1="822.80" y1="1208.80" x2="822.80" y2="1218.80" stroke="#f0b398" stroke-width="1.1" />
<line x1="847.50" y1="1238.50" x2="847.50" y2="1248.50" stroke="#f0b398" stroke-width="1.1" />
<text x="722.20" y="1104.70" font-size="13.5" textLength="111.90" lengthAdjust="spacingAndGlyphs" >mPFS = 16.8 months</text>
<text x="730.40" y="1120.30" font-size="13.5" textLength="95.80" lengthAdjust="spacingAndGlyphs" >(95% CI: 11.5–NR)</text>
<text x="618.70" y="1343.20" font-size="12.2" text-anchor="end" textLength="81.50" lengthAdjust="spacingAndGlyphs" >Number at risk</text>
<text x="618.70" y="1361.50" font-size="12.2" text-anchor="end" textLength="63.80" lengthAdjust="spacingAndGlyphs" >(Number of</text>
<text x="618.50" y="1375.70" font-size="12.2" text-anchor="end" textLength="55.50" lengthAdjust="spacingAndGlyphs" >censored)</text>
<text x="632.00" y="1343.30" font-size="12.5" text-anchor="middle" >28</text>
<text x="632.00" y="1361.10" font-size="12.5" text-anchor="middle" >(0)</text>
<text x="678.30" y="1343.30" font-size="12.5" text-anchor="middle" >27</text>
<text x="678.30" y="1361.10" font-size="12.5" text-anchor="middle" >(0)</text>
<text x="724.80" y="1343.30" font-size="12.5" text-anchor="middle" >12</text>
<text x="724.80" y="1361.10" font-size="12.5" text-anchor="middle" >(6)</text>
<text x="770.00" y="1343.30" font-size="12.5" text-anchor="middle" >5</text>
<text x="770.00" y="1361.10" font-size="12.5" text-anchor="middle" >(10)</text>
<text x="816.30" y="1343.30" font-size="12.5" text-anchor="middle" >3</text>
<text x="816.30" y="1361.10" font-size="12.5" text-anchor="middle" >(11)</text>
<text x="863.60" y="1343.30" font-size="12.5" text-anchor="middle" >0</text>
<text x="863.60" y="1361.10" font-size="12.5" text-anchor="middle" >(13)</text>
<line x1="943.60" y1="1081.50" x2="943.60" y2="1280.40" stroke="#333" stroke-width="1.3" />
<line x1="943.60" y1="1280.40" x2="1200.10" y2="1280.40" stroke="#666" stroke-width="1.3" />
<line x1="936.80" y1="1090.70" x2="943.60" y2="1090.70" stroke="#333" stroke-width="1.2" />
<text x="929.90" y="1095.70" font-size="11.5" text-anchor="end" >100</text>
<line x1="936.80" y1="1135.90" x2="943.60" y2="1135.90" stroke="#333" stroke-width="1.2" />
<text x="929.90" y="1140.90" font-size="11.5" text-anchor="end" >75</text>
<line x1="936.80" y1="1181.30" x2="943.60" y2="1181.30" stroke="#333" stroke-width="1.2" />
<text x="929.90" y="1186.30" font-size="11.5" text-anchor="end" >50</text>
<line x1="936.80" y1="1226.50" x2="943.60" y2="1226.50" stroke="#333" stroke-width="1.2" />
<text x="929.90" y="1231.50" font-size="11.5" text-anchor="end" >25</text>
<line x1="936.80" y1="1275.10" x2="943.60" y2="1275.10" stroke="#333" stroke-width="1.2" />
<text x="929.90" y="1280.10" font-size="11.5" text-anchor="end" >0</text>
<line x1="955.20" y1="1280.40" x2="955.20" y2="1287.60" stroke="#666" stroke-width="1.2" />
<text x="955.20" y="1302.80" font-size="11.5" text-anchor="middle" >0</text>
<line x1="1001.50" y1="1280.40" x2="1001.50" y2="1287.60" stroke="#666" stroke-width="1.2" />
<text x="1001.50" y="1302.80" font-size="11.5" text-anchor="middle" >6</text>
<line x1="1048.20" y1="1280.40" x2="1048.20" y2="1287.60" stroke="#666" stroke-width="1.2" />
<text x="1048.20" y="1302.80" font-size="11.5" text-anchor="middle" >12</text>
<line x1="1095.00" y1="1280.40" x2="1095.00" y2="1287.60" stroke="#666" stroke-width="1.2" />
<text x="1095.00" y="1302.80" font-size="11.5" text-anchor="middle" >18</text>
<line x1="1141.50" y1="1280.40" x2="1141.50" y2="1287.60" stroke="#666" stroke-width="1.2" />
<text x="1141.50" y="1302.80" font-size="11.5" text-anchor="middle" >24</text>
<line x1="1187.70" y1="1280.40" x2="1187.70" y2="1287.60" stroke="#666" stroke-width="1.2" />
<text x="1187.70" y="1302.80" font-size="11.5" text-anchor="middle" >30</text>
<text x="899.70" y="1246.20" font-size="15" textLength="131.00" lengthAdjust="spacingAndGlyphs" transform="rotate(-90 899.70 1246.20)" >Overall survival (%)</text>
<text x="1024.00" y="1323.60" font-size="14.5" textLength="98.50" lengthAdjust="spacingAndGlyphs" >Time (months)</text>
<line x1="943.60" y1="1181.40" x2="1154.00" y2="1181.40" stroke="#222" stroke-width="1.5" stroke-dasharray="5.4 5.3"/>
<line x1="1153.80" y1="1181.40" x2="1153.80" y2="1280.00" stroke="#222" stroke-width="1.5" stroke-dasharray="5.4 5.3"/>
<path d="M955.3,1090.7 H995.1 V1096.8 H1006.1 V1103.6 H1017.1 V1109.1 H1027.6 V1116.6 H1035.8 V1123.7 H1045.5 V1132.5 H1046.5 V1139 H1047.4 V1145.7 H1060.6 V1155.1 H1090.8 V1168.3 H1154.1 V1193.6 H1158.2 V1219.7 H1190.4" fill="none" stroke="#e8906c" stroke-width="1.6" />
<line x1="1019.90" y1="1104.10" x2="1019.90" y2="1114.10" stroke="#f0b398" stroke-width="1.1" />
<line x1="1035.00" y1="1111.60" x2="1035.00" y2="1121.60" stroke="#f0b398" stroke-width="1.1" />
<line x1="1048.80" y1="1140.70" x2="1048.80" y2="1150.70" stroke="#f0b398" stroke-width="1.1" />
<line x1="1053.70" y1="1140.70" x2="1053.70" y2="1150.70" stroke="#f0b398" stroke-width="1.1" />
<line x1="1070.80" y1="1150.10" x2="1070.80" y2="1160.10" stroke="#f0b398" stroke-width="1.1" />
<line x1="1079.80" y1="1150.10" x2="1079.80" y2="1160.10" stroke="#f0b398" stroke-width="1.1" />
<line x1="1088.60" y1="1150.10" x2="1088.60" y2="1160.10" stroke="#f0b398" stroke-width="1.1" />
<line x1="1098.80" y1="1163.30" x2="1098.80" y2="1173.30" stroke="#f0b398" stroke-width="1.1" />
<line x1="1102.40" y1="1163.30" x2="1102.40" y2="1173.30" stroke="#f0b398" stroke-width="1.1" />
<line x1="1106.50" y1="1163.30" x2="1106.50" y2="1173.30" stroke="#f0b398" stroke-width="1.1" />
<line x1="1151.10" y1="1163.30" x2="1151.10" y2="1173.30" stroke="#f0b398" stroke-width="1.1" />
<line x1="1183.50" y1="1214.70" x2="1183.50" y2="1224.70" stroke="#f0b398" stroke-width="1.1" />
<line x1="1191.20" y1="1214.70" x2="1191.20" y2="1224.70" stroke="#f0b398" stroke-width="1.1" />
<text x="1059.80" y="1103.60" font-size="13.5" textLength="110.50" lengthAdjust="spacingAndGlyphs" >mOS = 25.4 months</text>
<text x="1062.50" y="1118.20" font-size="13.5" textLength="99.00" lengthAdjust="spacingAndGlyphs" >(95% CI: 13.3–NR)</text>
<text x="956.00" y="1343.70" font-size="12.5" text-anchor="middle" >28</text>
<text x="956.00" y="1362.20" font-size="12.5" text-anchor="middle" >(0)</text>
<text x="1002.00" y="1343.70" font-size="12.5" text-anchor="middle" >27</text>
<text x="1002.00" y="1362.20" font-size="12.5" text-anchor="middle" >(0)</text>
<text x="1048.20" y="1343.70" font-size="12.5" text-anchor="middle" >15</text>
<text x="1048.20" y="1362.20" font-size="12.5" text-anchor="middle" >(5)</text>
<text x="1098.60" y="1343.70" font-size="12.5" text-anchor="middle" >8</text>
<text x="1098.60" y="1362.20" font-size="12.5" text-anchor="middle" >(10)</text>
<text x="1141.30" y="1343.70" font-size="12.5" text-anchor="middle" >5</text>
<text x="1141.30" y="1362.20" font-size="12.5" text-anchor="middle" >(13)</text>
<text x="1188.00" y="1343.70" font-size="12.5" text-anchor="middle" >1</text>
<text x="1188.00" y="1362.20" font-size="12.5" text-anchor="middle" >(15)</text>
<text x="0" y="0" transform="translate(-0.87 1408.00) scale(1.1 1)" font-size="25.5" font-weight="bold" fill="#000" stroke="#000" stroke-width="0.7">h</text>
<rect x="187.50" y="1396.50" width="54.70" height="22.80" fill="#fff" stroke="#222" stroke-width="1.5" />
<text x="214.85" y="1413.30" font-size="14" text-anchor="middle" textLength="25.80" lengthAdjust="spacingAndGlyphs" >P02</text>
<rect x="577.30" y="1396.50" width="54.40" height="22.80" fill="#fff" stroke="#222" stroke-width="1.5" />
<text x="604.50" y="1413.30" font-size="14" text-anchor="middle" textLength="25.80" lengthAdjust="spacingAndGlyphs" >P03</text>
<rect x="961.50" y="1396.50" width="54.00" height="22.80" fill="#fff" stroke="#222" stroke-width="1.5" />
<text x="988.50" y="1413.30" font-size="14" text-anchor="middle" textLength="25.80" lengthAdjust="spacingAndGlyphs" >P09</text>
<line x1="408.50" y1="1415.00" x2="408.50" y2="1688.00" stroke="#222" stroke-width="1.3" />
<line x1="793.50" y1="1415.00" x2="793.50" y2="1688.00" stroke="#222" stroke-width="1.3" />
<text x="28.30" y="1524.20" font-size="14.5" textLength="56.00" lengthAdjust="spacingAndGlyphs" transform="rotate(-90 28.30 1524.20)" >Baseline</text>
<text x="28.30" y="1641.00" font-size="14.5" textLength="25.80" lengthAdjust="spacingAndGlyphs" transform="rotate(-90 28.30 1641.00)" >BoR</text>
<text x="86.80" y="1694.00" font-size="14.5" textLength="264.20" lengthAdjust="spacingAndGlyphs" >PFS = 16.8 months; OS = 30.0+ months</text>
<text x="470.70" y="1694.00" font-size="14.5" textLength="267.60" lengthAdjust="spacingAndGlyphs" >PFS = 27.8+ months; OS = 29.1+ months</text>
<text x="850.80" y="1694.30" font-size="14.5" textLength="270.60" lengthAdjust="spacingAndGlyphs" >PFS = 24.7+ months; OS = 24.9+ months</text>
<text x="858.50" y="1718.30" font-size="14.5" textLength="63.00" lengthAdjust="spacingAndGlyphs" >Ablated (</text>
<text x="944.60" y="1718.30" font-size="14.5" >)</text>
<text x="996.00" y="1718.30" font-size="14.5" textLength="88.80" lengthAdjust="spacingAndGlyphs" >Nonablated (</text>
<text x="1112.30" y="1718.30" font-size="14.5" >)</text>
<path d="M945.8,1726.1 L931.6,1708.7 L937.0,1704.2 L921.0,1700.5 L921.5,1716.9 L926.9,1712.5 L941.2,1729.9 Z" fill="#f2b81c" />
<path d="M1088.3,1704 L1108.4,1713.7 L1098.2,1724 Z" fill="#c4461f" />
<clipPath id="c1"><rect x="35.1" y="1424.8" width="176.4" height="126.0"/></clipPath>
<rect x="35.10" y="1424.80" width="176.40" height="126.00" fill="#000" />
<g clip-path="url(#c1)">
<path d="M36.90,1486.50 C36.90,1447.46 68.04,1425.50 123.40,1425.50 C178.76,1425.50 209.90,1447.46 209.90,1486.50 C209.90,1525.54 178.76,1547.50 123.40,1547.50 C68.04,1547.50 36.90,1525.54 36.90,1486.50 Z" fill="#1e1e1e" stroke="#9a9a9a" stroke-width="1.0"/>
<path d="M40.10,1486.50 C40.10,1449.51 70.09,1428.70 123.40,1428.70 C176.71,1428.70 206.70,1449.51 206.70,1486.50 C206.70,1523.49 176.71,1544.30 123.40,1544.30 C70.09,1544.30 40.10,1523.49 40.10,1486.50 Z" fill="#5a5a5a"/>
<path d="M45.10,1486.50 C45.10,1452.71 73.29,1433.70 123.40,1433.70 C173.51,1433.70 201.70,1452.71 201.70,1486.50 C201.70,1520.29 173.51,1539.30 123.40,1539.30 C73.29,1539.30 45.10,1520.29 45.10,1486.50 Z" fill="#050505"/>
<ellipse cx="47.8" cy="1467.7" rx="3.6" ry="1.6" fill="#eee" transform="rotate(290 47.8 1467.7)"/>
<ellipse cx="71.7" cy="1444.4" rx="3.6" ry="1.6" fill="#eee" transform="rotate(320 71.7 1444.4)"/>
<ellipse cx="109.4" cy="1432.3" rx="3.6" ry="1.6" fill="#eee" transform="rotate(350 109.4 1432.3)"/>
<ellipse cx="163.7" cy="1438.9" rx="3.6" ry="1.6" fill="#eee" transform="rotate(390 163.7 1438.9)"/>
<ellipse cx="193.1" cy="1459.0" rx="3.6" ry="1.6" fill="#eee" transform="rotate(420 193.1 1459.0)"/>
<ellipse cx="202.7" cy="1476.9" rx="3.6" ry="1.6" fill="#eee" transform="rotate(440 202.7 1476.9)"/>
<ellipse cx="47.8" cy="1505.3" rx="3.6" ry="1.6" fill="#eee" transform="rotate(250 47.8 1505.3)"/>
<ellipse cx="61.7" cy="1521.9" rx="3.6" ry="1.6" fill="#eee" transform="rotate(230 61.7 1521.9)"/>
<ellipse cx="83.2" cy="1534.1" rx="3.6" ry="1.6" fill="#eee" transform="rotate(210 83.2 1534.1)"/>
<ellipse cx="163.7" cy="1534.1" rx="3.6" ry="1.6" fill="#eee" transform="rotate(150 163.7 1534.1)"/>
<ellipse cx="193.1" cy="1514.0" rx="3.6" ry="1.6" fill="#eee" transform="rotate(120 193.1 1514.0)"/>
<ellipse cx="202.7" cy="1496.1" rx="3.6" ry="1.6" fill="#eee" transform="rotate(100 202.7 1496.1)"/>
<clipPath id="bi1"><path d="M45.10,1486.50 C45.10,1452.71 73.29,1433.70 123.40,1433.70 C173.51,1433.70 201.70,1452.71 201.70,1486.50 C201.70,1520.29 173.51,1539.30 123.40,1539.30 C73.29,1539.30 45.10,1520.29 45.10,1486.50 Z"/></clipPath>
<g clip-path="url(#bi1)">
<ellipse cx="97.5" cy="1542.6" rx="31.1" ry="15.9" fill="#777"/>
<ellipse cx="149.3" cy="1542.6" rx="31.1" ry="15.9" fill="#777"/>
<path d="M62,1452 C70,1440 100,1438 125,1440 C145,1442 160,1444 168,1452 C172,1462 160,1470 150,1474 C140,1478 130,1482 122,1488 C110,1500 95,1508 85,1505 C70,1500 62,1490 60,1478 C59,1468 59,1458 62,1452 Z" fill="#b4b4b4" />
<ellipse cx="96" cy="1470" rx="15" ry="17" fill="#808080" transform="rotate(-20 96 1470)" />
<ellipse cx="90" cy="1487" rx="7" ry="8" fill="#959595" />
<ellipse cx="168" cy="1478" rx="16" ry="19" fill="#555" transform="rotate(-25 168 1478)" />
<ellipse cx="175" cy="1490" rx="9" ry="5" fill="#aaa" transform="rotate(-20 175 1490)" />
<path d="M110,1525 C115,1505 135,1505 140,1525 L145,1538 L105,1538 Z" fill="#8a8a8a" />
</g>
<g transform="translate(126 1516) scale(1.15)"><path d="M-9,-8 Q0,-12 9,-8 L10,4 Q6,8 0,8 Q-6,8 -10,4 Z" fill="#f4f4f4"/><path d="M-4,6 L4,6 L5,14 L2,20 L-2,20 L-5,14 Z" fill="#eee"/><path d="M-6,8 L-16,14 L-15,16 L-5,12 Z M6,8 L16,14 L15,16 L5,12 Z" fill="#ddd"/><ellipse cx="0" cy="9" rx="3.6" ry="2.6" fill="#777"/></g>
<circle cx="129.00" cy="1497.50" r="5.00" fill="#e8e8e8" />
<circle cx="128.00" cy="1487.00" r="2.50" fill="#aaa" />
<path d="M46.5,1499.0 L62.8,1490.9 L62.8,1507.1 Z" fill="#c4461f" />
<path d="M88.8,1507.1 L108.8,1511.9 L97.0,1526.0 Z" fill="#c4461f" />
<path d="M130.0,1509.5 L117.3,1493.0 L122.8,1488.7 L108.0,1485.0 L107.8,1500.3 L113.3,1496.0 L126.0,1512.5 Z" fill="#f2b81c" />
</g>
<clipPath id="c2"><rect x="219.5" y="1424.8" width="173.7" height="126.0"/></clipPath>
<rect x="219.50" y="1424.80" width="173.70" height="126.00" fill="#000" />
<g clip-path="url(#c2)">
<path d="M221.00,1486.50 C221.00,1447.46 251.60,1425.50 306.00,1425.50 C360.40,1425.50 391.00,1447.46 391.00,1486.50 C391.00,1525.54 360.40,1547.50 306.00,1547.50 C251.60,1547.50 221.00,1525.54 221.00,1486.50 Z" fill="#1e1e1e" stroke="#9a9a9a" stroke-width="1.0"/>
<path d="M224.20,1486.50 C224.20,1449.51 253.65,1428.70 306.00,1428.70 C358.35,1428.70 387.80,1449.51 387.80,1486.50 C387.80,1523.49 358.35,1544.30 306.00,1544.30 C253.65,1544.30 224.20,1523.49 224.20,1486.50 Z" fill="#5a5a5a"/>
<path d="M229.20,1486.50 C229.20,1452.71 256.85,1433.70 306.00,1433.70 C355.15,1433.70 382.80,1452.71 382.80,1486.50 C382.80,1520.29 355.15,1539.30 306.00,1539.30 C256.85,1539.30 229.20,1520.29 229.20,1486.50 Z" fill="#111"/>
<ellipse cx="227.0" cy="1486.5" rx="3.6" ry="1.6" fill="#eee" transform="rotate(270 227.0 1486.5)"/>
<ellipse cx="231.8" cy="1467.7" rx="3.6" ry="1.6" fill="#eee" transform="rotate(290 231.8 1467.7)"/>
<ellipse cx="231.8" cy="1505.3" rx="3.6" ry="1.6" fill="#eee" transform="rotate(250 231.8 1505.3)"/>
<ellipse cx="245.5" cy="1521.9" rx="3.6" ry="1.6" fill="#eee" transform="rotate(230 245.5 1521.9)"/>
<ellipse cx="250.1" cy="1447.6" rx="3.6" ry="1.6" fill="#eee" transform="rotate(315 250.1 1447.6)"/>
<ellipse cx="377.6" cy="1463.3" rx="3.6" ry="1.6" fill="#eee" transform="rotate(425 377.6 1463.3)"/>
<ellipse cx="385.0" cy="1486.5" rx="3.6" ry="1.6" fill="#eee" transform="rotate(90 385.0 1486.5)"/>
<ellipse cx="380.2" cy="1505.3" rx="3.6" ry="1.6" fill="#eee" transform="rotate(110 380.2 1505.3)"/>
<ellipse cx="361.9" cy="1525.4" rx="3.6" ry="1.6" fill="#eee" transform="rotate(135 361.9 1525.4)"/>
<ellipse cx="260.7" cy="1531.6" rx="3.6" ry="1.6" fill="#eee" transform="rotate(215 260.7 1531.6)"/>
<ellipse cx="345.5" cy="1534.1" rx="3.6" ry="1.6" fill="#eee" transform="rotate(150 345.5 1534.1)"/>
<clipPath id="bi2"><path d="M229.20,1486.50 C229.20,1452.71 256.85,1433.70 306.00,1433.70 C355.15,1433.70 382.80,1452.71 382.80,1486.50 C382.80,1520.29 355.15,1539.30 306.00,1539.30 C256.85,1539.30 229.20,1520.29 229.20,1486.50 Z"/></clipPath>
<g clip-path="url(#bi2)">
<ellipse cx="280.5" cy="1542.6" rx="30.6" ry="15.9" fill="#777"/>
<ellipse cx="331.5" cy="1542.6" rx="30.6" ry="15.9" fill="#777"/>
<path d="M236,1470 C240,1452 255,1445 275,1444 C292,1444 300,1448 305,1460 C310,1475 305,1490 300,1505 C295,1520 285,1535 265,1538 C250,1538 240,1528 236,1510 C234,1495 234,1482 236,1470 Z" fill="#b2b2b2" />
<ellipse cx="268" cy="1490" rx="12" ry="10" fill="#999" />
<ellipse cx="321" cy="1452" rx="15" ry="11" fill="#8a8a8a" />
<ellipse cx="352" cy="1450" rx="14" ry="10" fill="#000" />
<ellipse cx="330" cy="1473" rx="9" ry="8" fill="#999" />
<ellipse cx="355" cy="1478" rx="12" ry="14" fill="#555" />
<ellipse cx="366" cy="1498" rx="16" ry="28" fill="#a8a8a8" transform="rotate(5 366 1498)" />
<ellipse cx="337" cy="1514" rx="10" ry="13" fill="#ddd" />
<path d="M265,1540 C290,1530 330,1530 355,1540 L355,1550 L265,1550 Z" fill="#777" />
</g>
<g transform="translate(308 1515) scale(1.25)"><path d="M-9,-8 Q0,-12 9,-8 L10,4 Q6,8 0,8 Q-6,8 -10,4 Z" fill="#f4f4f4"/><path d="M-4,6 L4,6 L5,14 L2,20 L-2,20 L-5,14 Z" fill="#eee"/><path d="M-6,8 L-16,14 L-15,16 L-5,12 Z M6,8 L16,14 L15,16 L5,12 Z" fill="#ddd"/><ellipse cx="0" cy="9" rx="3.6" ry="2.6" fill="#777"/></g>
<circle cx="311.30" cy="1498.60" r="5.40" fill="#d8d8d8" />
<path d="M297.4,1451.4 L316.9,1458.0 L304.0,1470.9 Z" fill="#c4461f" />
<path d="M328.9,1456.4 L348.4,1463.0 L335.5,1475.9 Z" fill="#c4461f" />
<path d="M327.4,1482.4 L346.9,1489.0 L334.0,1501.9 Z" fill="#c4461f" />
</g>
<clipPath id="c3"><rect x="35.3" y="1556.2" width="176.2" height="120.39999999999986"/></clipPath>
<rect x="35.30" y="1556.20" width="176.20" height="120.40" fill="#000" />
<g clip-path="url(#c3)">
<path d="M36.90,1618.00 C36.90,1580.24 68.04,1559.00 123.40,1559.00 C178.76,1559.00 209.90,1580.24 209.90,1618.00 C209.90,1655.76 178.76,1677.00 123.40,1677.00 C68.04,1677.00 36.90,1655.76 36.90,1618.00 Z" fill="#1e1e1e" stroke="#9a9a9a" stroke-width="1.0"/>
<path d="M40.10,1618.00 C40.10,1582.29 70.09,1562.20 123.40,1562.20 C176.71,1562.20 206.70,1582.29 206.70,1618.00 C206.70,1653.71 176.71,1673.80 123.40,1673.80 C70.09,1673.80 40.10,1653.71 40.10,1618.00 Z" fill="#5a5a5a"/>
<path d="M45.10,1618.00 C45.10,1585.49 73.29,1567.20 123.40,1567.20 C173.51,1567.20 201.70,1585.49 201.70,1618.00 C201.70,1650.51 173.51,1668.80 123.40,1668.80 C73.29,1668.80 45.10,1650.51 45.10,1618.00 Z" fill="#050505"/>
<ellipse cx="42.9" cy="1618.0" rx="3.6" ry="1.6" fill="#eee" transform="rotate(270 42.9 1618.0)"/>
<ellipse cx="47.8" cy="1599.9" rx="3.6" ry="1.6" fill="#eee" transform="rotate(290 47.8 1599.9)"/>
<ellipse cx="47.8" cy="1636.1" rx="3.6" ry="1.6" fill="#eee" transform="rotate(250 47.8 1636.1)"/>
<ellipse cx="61.7" cy="1652.1" rx="3.6" ry="1.6" fill="#eee" transform="rotate(230 61.7 1652.1)"/>
<ellipse cx="61.7" cy="1583.9" rx="3.6" ry="1.6" fill="#eee" transform="rotate(310 61.7 1583.9)"/>
<ellipse cx="95.9" cy="1568.2" rx="3.6" ry="1.6" fill="#eee" transform="rotate(340 95.9 1568.2)"/>
<ellipse cx="150.9" cy="1568.2" rx="3.6" ry="1.6" fill="#eee" transform="rotate(380 150.9 1568.2)"/>
<ellipse cx="185.1" cy="1583.9" rx="3.6" ry="1.6" fill="#eee" transform="rotate(410 185.1 1583.9)"/>
<ellipse cx="199.0" cy="1599.9" rx="3.6" ry="1.6" fill="#eee" transform="rotate(430 199.0 1599.9)"/>
<ellipse cx="203.9" cy="1618.0" rx="3.6" ry="1.6" fill="#eee" transform="rotate(90 203.9 1618.0)"/>
<ellipse cx="199.0" cy="1636.1" rx="3.6" ry="1.6" fill="#eee" transform="rotate(110 199.0 1636.1)"/>
<ellipse cx="185.1" cy="1652.1" rx="3.6" ry="1.6" fill="#eee" transform="rotate(130 185.1 1652.1)"/>
<ellipse cx="163.7" cy="1663.9" rx="3.6" ry="1.6" fill="#eee" transform="rotate(150 163.7 1663.9)"/>
<ellipse cx="83.2" cy="1663.9" rx="3.6" ry="1.6" fill="#eee" transform="rotate(210 83.2 1663.9)"/>
<clipPath id="bi3"><path d="M45.10,1618.00 C45.10,1585.49 73.29,1567.20 123.40,1567.20 C173.51,1567.20 201.70,1585.49 201.70,1618.00 C201.70,1650.51 173.51,1668.80 123.40,1668.80 C73.29,1668.80 45.10,1650.51 45.10,1618.00 Z"/></clipPath>
<g clip-path="url(#bi3)">
<ellipse cx="97.5" cy="1672.3" rx="31.1" ry="15.3" fill="#777"/>
<ellipse cx="149.3" cy="1672.3" rx="31.1" ry="15.3" fill="#777"/>
<path d="M62,1590 C66,1580 90,1576 120,1578 C150,1578 165,1580 170,1590 C172,1600 165,1606 150,1610 C138,1614 130,1618 125,1625 C118,1635 100,1640 82,1640 C68,1640 61,1630 60,1615 C59,1605 60,1595 62,1590 Z" fill="#b8b8b8" />
<ellipse cx="94" cy="1608.6" rx="10" ry="9.5" fill="#7a7a7a" />
<ellipse cx="165" cy="1605" rx="10" ry="14" fill="#555" transform="rotate(-20 165 1605)" />
<ellipse cx="168" cy="1618" rx="8" ry="5" fill="#aaa" />
<path d="M105,1662 C112,1648 138,1648 145,1662 L148,1676 L102,1676 Z" fill="#8a8a8a" />
</g>
<g transform="translate(125.6 1645) scale(1.05)"><path d="M-9,-8 Q0,-12 9,-8 L10,4 Q6,8 0,8 Q-6,8 -10,4 Z" fill="#f4f4f4"/><path d="M-4,6 L4,6 L5,14 L2,20 L-2,20 L-5,14 Z" fill="#eee"/><path d="M-6,8 L-16,14 L-15,16 L-5,12 Z M6,8 L16,14 L15,16 L5,12 Z" fill="#ddd"/><ellipse cx="0" cy="9" rx="3.6" ry="2.6" fill="#777"/></g>
<circle cx="130.00" cy="1624.00" r="5.00" fill="#e8e8e8" />
<path d="M122.0,1644.5 L110.3,1629.0 L115.8,1624.8 L101.0,1621.0 L100.7,1636.3 L106.3,1632.1 L118.0,1647.5 Z" fill="#f2b81c" />
</g>
<clipPath id="c4"><rect x="219.2" y="1556.2" width="174.3" height="120.39999999999986"/></clipPath>
<rect x="219.20" y="1556.20" width="174.30" height="120.40" fill="#000" />
<g clip-path="url(#c4)">
<path d="M220.30,1618.00 C220.30,1580.24 251.26,1559.00 306.30,1559.00 C361.34,1559.00 392.30,1580.24 392.30,1618.00 C392.30,1655.76 361.34,1677.00 306.30,1677.00 C251.26,1677.00 220.30,1655.76 220.30,1618.00 Z" fill="#1e1e1e" stroke="#9a9a9a" stroke-width="1.0"/>
<path d="M223.50,1618.00 C223.50,1582.29 253.31,1562.20 306.30,1562.20 C359.29,1562.20 389.10,1582.29 389.10,1618.00 C389.10,1653.71 359.29,1673.80 306.30,1673.80 C253.31,1673.80 223.50,1653.71 223.50,1618.00 Z" fill="#5a5a5a"/>
<path d="M228.50,1618.00 C228.50,1585.49 256.51,1567.20 306.30,1567.20 C356.09,1567.20 384.10,1585.49 384.10,1618.00 C384.10,1650.51 356.09,1668.80 306.30,1668.80 C256.51,1668.80 228.50,1650.51 228.50,1618.00 Z" fill="#111"/>
<ellipse cx="226.3" cy="1618.0" rx="3.6" ry="1.6" fill="#eee" transform="rotate(270 226.3 1618.0)"/>
<ellipse cx="231.1" cy="1599.9" rx="3.6" ry="1.6" fill="#eee" transform="rotate(290 231.1 1599.9)"/>
<ellipse cx="231.1" cy="1636.1" rx="3.6" ry="1.6" fill="#eee" transform="rotate(250 231.1 1636.1)"/>
<ellipse cx="240.8" cy="1648.4" rx="3.6" ry="1.6" fill="#eee" transform="rotate(235 240.8 1648.4)"/>
<ellipse cx="249.7" cy="1580.5" rx="3.6" ry="1.6" fill="#eee" transform="rotate(315 249.7 1580.5)"/>
<ellipse cx="367.6" cy="1583.9" rx="3.6" ry="1.6" fill="#eee" transform="rotate(410 367.6 1583.9)"/>
<ellipse cx="381.5" cy="1599.9" rx="3.6" ry="1.6" fill="#eee" transform="rotate(430 381.5 1599.9)"/>
<ellipse cx="386.3" cy="1618.0" rx="3.6" ry="1.6" fill="#eee" transform="rotate(90 386.3 1618.0)"/>
<ellipse cx="381.5" cy="1636.1" rx="3.6" ry="1.6" fill="#eee" transform="rotate(110 381.5 1636.1)"/>
<ellipse cx="367.6" cy="1652.1" rx="3.6" ry="1.6" fill="#eee" transform="rotate(130 367.6 1652.1)"/>
<ellipse cx="260.4" cy="1661.4" rx="3.6" ry="1.6" fill="#eee" transform="rotate(215 260.4 1661.4)"/>
<clipPath id="bi4"><path d="M228.50,1618.00 C228.50,1585.49 256.51,1567.20 306.30,1567.20 C356.09,1567.20 384.10,1585.49 384.10,1618.00 C384.10,1650.51 356.09,1668.80 306.30,1668.80 C256.51,1668.80 228.50,1650.51 228.50,1618.00 Z"/></clipPath>
<g clip-path="url(#bi4)">
<ellipse cx="280.5" cy="1672.3" rx="31.0" ry="15.3" fill="#777"/>
<ellipse cx="332.1" cy="1672.3" rx="31.0" ry="15.3" fill="#777"/>
<path d="M234,1600 C238,1588 255,1582 280,1581 C300,1580 308,1584 312,1595 C315,1610 312,1625 306,1638 C298,1650 280,1656 262,1655 C248,1652 238,1642 235,1625 C233,1615 233,1607 234,1600 Z" fill="#b0b0b0" />
<ellipse cx="255" cy="1654" rx="9" ry="6" fill="#999" />
<ellipse cx="347" cy="1604" rx="20" ry="24" fill="#555" transform="rotate(-10 347 1604)" />
<ellipse cx="354" cy="1630" rx="17" ry="16" fill="#b0b0b0" />
<ellipse cx="302" cy="1578" rx="8" ry="4" fill="#aaa" />
<path d="M260,1665 C290,1655 330,1655 360,1665 L360,1676 L260,1676 Z" fill="#777" />
</g>
<g transform="translate(309 1646) scale(1.1)"><path d="M-9,-8 Q0,-12 9,-8 L10,4 Q6,8 0,8 Q-6,8 -10,4 Z" fill="#f4f4f4"/><path d="M-4,6 L4,6 L5,14 L2,20 L-2,20 L-5,14 Z" fill="#eee"/><path d="M-6,8 L-16,14 L-15,16 L-5,12 Z M6,8 L16,14 L15,16 L5,12 Z" fill="#ddd"/><ellipse cx="0" cy="9" rx="3.6" ry="2.6" fill="#777"/></g>
<circle cx="313.70" cy="1625.50" r="5.50" fill="#ddd" />
<path d="M292.4,1584.4 L311.9,1591.0 L299.0,1603.9 Z" fill="#c4461f" />
<path d="M319.4,1584.4 L338.9,1591.0 L326.0,1603.9 Z" fill="#c4461f" />
<path d="M320.4,1614.4 L339.9,1621.0 L327.0,1633.9 Z" fill="#c4461f" />
</g>
<clipPath id="c5"><rect x="422.7" y="1424.8" width="175.7" height="125.79999999999995"/></clipPath>
<rect x="422.70" y="1424.80" width="175.70" height="125.80" fill="#000" />
<g clip-path="url(#c5)">
<path d="M424.50,1488.00 C424.50,1449.60 455.46,1428.00 510.50,1428.00 C565.54,1428.00 596.50,1449.60 596.50,1488.00 C596.50,1526.40 565.54,1548.00 510.50,1548.00 C455.46,1548.00 424.50,1526.40 424.50,1488.00 Z" fill="#1e1e1e" stroke="#9a9a9a" stroke-width="1.0"/>
<path d="M427.70,1488.00 C427.70,1451.65 457.51,1431.20 510.50,1431.20 C563.49,1431.20 593.30,1451.65 593.30,1488.00 C593.30,1524.35 563.49,1544.80 510.50,1544.80 C457.51,1544.80 427.70,1524.35 427.70,1488.00 Z" fill="#5a5a5a"/>
<path d="M432.70,1488.00 C432.70,1454.85 460.71,1436.20 510.50,1436.20 C560.29,1436.20 588.30,1454.85 588.30,1488.00 C588.30,1521.15 560.29,1539.80 510.50,1539.80 C460.71,1539.80 432.70,1521.15 432.70,1488.00 Z" fill="#060606"/>
<ellipse cx="430.5" cy="1488.0" rx="3.6" ry="1.6" fill="#eee" transform="rotate(270 430.5 1488.0)"/>
<ellipse cx="435.3" cy="1506.5" rx="3.6" ry="1.6" fill="#eee" transform="rotate(250 435.3 1506.5)"/>
<ellipse cx="435.3" cy="1469.5" rx="3.6" ry="1.6" fill="#eee" transform="rotate(290 435.3 1469.5)"/>
<ellipse cx="449.2" cy="1522.7" rx="3.6" ry="1.6" fill="#eee" transform="rotate(230 449.2 1522.7)"/>
<ellipse cx="571.8" cy="1522.7" rx="3.6" ry="1.6" fill="#eee" transform="rotate(130 571.8 1522.7)"/>
<ellipse cx="585.7" cy="1506.5" rx="3.6" ry="1.6" fill="#eee" transform="rotate(110 585.7 1506.5)"/>
<ellipse cx="590.5" cy="1488.0" rx="3.6" ry="1.6" fill="#eee" transform="rotate(90 590.5 1488.0)"/>
<ellipse cx="585.7" cy="1469.5" rx="3.6" ry="1.6" fill="#eee" transform="rotate(430 585.7 1469.5)"/>
<ellipse cx="550.5" cy="1534.8" rx="3.6" ry="1.6" fill="#eee" transform="rotate(150 550.5 1534.8)"/>
<ellipse cx="470.5" cy="1534.8" rx="3.6" ry="1.6" fill="#eee" transform="rotate(210 470.5 1534.8)"/>
<clipPath id="bi5"><path d="M432.70,1488.00 C432.70,1454.85 460.71,1436.20 510.50,1436.20 C560.29,1436.20 588.30,1454.85 588.30,1488.00 C588.30,1521.15 560.29,1539.80 510.50,1539.80 C460.71,1539.80 432.70,1521.15 432.70,1488.00 Z"/></clipPath>
<g clip-path="url(#bi5)">
<ellipse cx="484.7" cy="1543.2" rx="31.0" ry="15.6" fill="#777"/>
<ellipse cx="536.3" cy="1543.2" rx="31.0" ry="15.6" fill="#777"/>
<path d="M462,1460 C465,1445 490,1438 520,1437 C545,1437 560,1442 562,1455 C564,1468 558,1480 548,1486 C535,1492 515,1494 500,1493 C480,1492 465,1488 462,1478 C460,1470 460,1465 462,1460 Z" fill="#b9b9b9" />
<circle cx="475.00" cy="1465.00" r="3.50" fill="#979797" />
<circle cx="500.00" cy="1470.00" r="3.00" fill="#979797" />
<circle cx="522.00" cy="1466.00" r="3.50" fill="#979797" />
<circle cx="545.00" cy="1462.00" r="3.00" fill="#979797" />
<circle cx="535.00" cy="1478.00" r="3.20" fill="#979797" />
<circle cx="488.00" cy="1482.00" r="3.00" fill="#979797" />
<circle cx="512.00" cy="1480.00" r="2.80" fill="#979797" />
<circle cx="458.00" cy="1470.00" r="3.00" fill="#979797" />
<circle cx="552.00" cy="1448.00" r="2.60" fill="#979797" />
<circle cx="530.00" cy="1445.00" r="2.60" fill="#979797" />
<ellipse cx="555" cy="1494" rx="22" ry="14" fill="#5a5a5a" />
<ellipse cx="560" cy="1511" rx="22" ry="10" fill="#b5b5b5" />
<ellipse cx="450" cy="1470" rx="9" ry="18" fill="#444" />
<path d="M490,1530 C495,1515 525,1515 530,1530 L535,1545 L485,1545 Z" fill="#8a8a8a" />
</g>
<g transform="translate(508 1513) scale(1.1)"><path d="M-9,-8 Q0,-12 9,-8 L10,4 Q6,8 0,8 Q-6,8 -10,4 Z" fill="#f4f4f4"/><path d="M-4,6 L4,6 L5,14 L2,20 L-2,20 L-5,14 Z" fill="#eee"/><path d="M-6,8 L-16,14 L-15,16 L-5,12 Z M6,8 L16,14 L15,16 L5,12 Z" fill="#ddd"/><ellipse cx="0" cy="9" rx="3.6" ry="2.6" fill="#777"/></g>
<circle cx="512.00" cy="1496.00" r="5.00" fill="#e6e6e6" />
<path d="M481.1,1447.6 L501.4,1454.4 L487.9,1467.9 Z" fill="#c4461f" />
<path d="M507.1,1446.1 L527.4,1452.9 L513.9,1466.4 Z" fill="#c4461f" />
<path d="M532.1,1444.5 L552.4,1451.3 L538.9,1464.8 Z" fill="#c4461f" />
<path d="M502.7,1479.9 L523.0,1486.7 L509.5,1500.2 Z" fill="#c4461f" />
<path d="M524.1,1478.4 L544.4,1485.2 L530.9,1498.7 Z" fill="#c4461f" />
<path d="M561.1,1469.1 L581.4,1475.9 L567.9,1489.4 Z" fill="#c4461f" />
<path d="M488.8,1490.7 L509.1,1497.5 L495.6,1511.0 Z" fill="#c4461f" />
<path d="M563.9,1492.4 L555.6,1482.6 L561.0,1478.1 L546.0,1475.0 L546.5,1490.3 L551.8,1485.8 L560.1,1495.6 Z" fill="#f2b81c" />
</g>
<clipPath id="c6"><rect x="606.2" y="1424.8" width="173.0" height="125.79999999999995"/></clipPath>
<rect x="606.20" y="1424.80" width="173.00" height="125.80" fill="#000" />
<g clip-path="url(#c6)">
<path d="M607.50,1488.00 C607.50,1449.60 638.10,1428.00 692.50,1428.00 C746.90,1428.00 777.50,1449.60 777.50,1488.00 C777.50,1526.40 746.90,1548.00 692.50,1548.00 C638.10,1548.00 607.50,1526.40 607.50,1488.00 Z" fill="#1e1e1e" stroke="#9a9a9a" stroke-width="1.0"/>
<path d="M610.70,1488.00 C610.70,1451.65 640.15,1431.20 692.50,1431.20 C744.85,1431.20 774.30,1451.65 774.30,1488.00 C774.30,1524.35 744.85,1544.80 692.50,1544.80 C640.15,1544.80 610.70,1524.35 610.70,1488.00 Z" fill="#5a5a5a"/>
<path d="M615.70,1488.00 C615.70,1454.85 643.35,1436.20 692.50,1436.20 C741.65,1436.20 769.30,1454.85 769.30,1488.00 C769.30,1521.15 741.65,1539.80 692.50,1539.80 C643.35,1539.80 615.70,1521.15 615.70,1488.00 Z" fill="#060606"/>
<ellipse cx="613.5" cy="1488.0" rx="3.6" ry="1.6" fill="#eee" transform="rotate(270 613.5 1488.0)"/>
<ellipse cx="618.3" cy="1506.5" rx="3.6" ry="1.6" fill="#eee" transform="rotate(250 618.3 1506.5)"/>
<ellipse cx="618.3" cy="1469.5" rx="3.6" ry="1.6" fill="#eee" transform="rotate(290 618.3 1469.5)"/>
<ellipse cx="632.0" cy="1522.7" rx="3.6" ry="1.6" fill="#eee" transform="rotate(230 632.0 1522.7)"/>
<ellipse cx="753.0" cy="1522.7" rx="3.6" ry="1.6" fill="#eee" transform="rotate(130 753.0 1522.7)"/>
<ellipse cx="766.7" cy="1506.5" rx="3.6" ry="1.6" fill="#eee" transform="rotate(110 766.7 1506.5)"/>
<ellipse cx="771.5" cy="1488.0" rx="3.6" ry="1.6" fill="#eee" transform="rotate(90 771.5 1488.0)"/>
<ellipse cx="766.7" cy="1469.5" rx="3.6" ry="1.6" fill="#eee" transform="rotate(430 766.7 1469.5)"/>
<ellipse cx="732.0" cy="1534.8" rx="3.6" ry="1.6" fill="#eee" transform="rotate(150 732.0 1534.8)"/>
<ellipse cx="653.0" cy="1534.8" rx="3.6" ry="1.6" fill="#eee" transform="rotate(210 653.0 1534.8)"/>
<clipPath id="bi6"><path d="M615.70,1488.00 C615.70,1454.85 643.35,1436.20 692.50,1436.20 C741.65,1436.20 769.30,1454.85 769.30,1488.00 C769.30,1521.15 741.65,1539.80 692.50,1539.80 C643.35,1539.80 615.70,1521.15 615.70,1488.00 Z"/></clipPath>
<g clip-path="url(#bi6)">
<ellipse cx="667.0" cy="1543.2" rx="30.6" ry="15.6" fill="#777"/>
<ellipse cx="718.0" cy="1543.2" rx="30.6" ry="15.6" fill="#777"/>
<path d="M665,1450 C667,1440 690,1436 715,1437 C735,1438 742,1445 742,1458 C742,1470 735,1476 720,1477 C700,1478 680,1476 670,1470 C664,1465 663,1457 665,1450 Z" fill="#b9b9b9" />
<ellipse cx="743" cy="1480" rx="20" ry="17" fill="#5a5a5a" />
<ellipse cx="743" cy="1515" rx="22" ry="13" fill="#b8b8b8" />
<ellipse cx="688" cy="1485" rx="20" ry="9" fill="#aaa" transform="rotate(-15 688 1485)" />
<ellipse cx="662" cy="1507" rx="9" ry="5.5" fill="#f2f2f2" />
<ellipse cx="652" cy="1480" rx="10" ry="18" fill="#444" />
<ellipse cx="660" cy="1470" rx="8" ry="8" fill="#555" />
<path d="M670,1532 C675,1520 705,1520 712,1532 L716,1546 L665,1546 Z" fill="#8a8a8a" />
</g>
<g transform="translate(690 1515) scale(1.1)"><path d="M-9,-8 Q0,-12 9,-8 L10,4 Q6,8 0,8 Q-6,8 -10,4 Z" fill="#f4f4f4"/><path d="M-4,6 L4,6 L5,14 L2,20 L-2,20 L-5,14 Z" fill="#eee"/><path d="M-6,8 L-16,14 L-15,16 L-5,12 Z M6,8 L16,14 L15,16 L5,12 Z" fill="#ddd"/><ellipse cx="0" cy="9" rx="3.6" ry="2.6" fill="#777"/></g>
<circle cx="694.00" cy="1500.00" r="4.50" fill="#ddd" />
<path d="M671.0,1447.9 L690.5,1454.5 L677.6,1467.4 Z" fill="#c4461f" />
<path d="M729.4,1463.4 L748.9,1470.0 L736.0,1482.9 Z" fill="#c4461f" />
<path d="M742.4,1460.4 L761.9,1467.0 L749.0,1479.9 Z" fill="#c4461f" />
<path d="M708.0,1481.8 L727.5,1488.4 L714.6,1501.3 Z" fill="#c4461f" />
<path d="M698.8,1494.1 L718.3,1500.7 L705.4,1513.6 Z" fill="#c4461f" />
</g>
<clipPath id="c7"><rect x="422.7" y="1554.8" width="175.7" height="122.40000000000009"/></clipPath>
<rect x="422.70" y="1554.80" width="175.70" height="122.40" fill="#000" />
<g clip-path="url(#c7)">
<path d="M424.50,1616.00 C424.50,1577.60 455.46,1556.00 510.50,1556.00 C565.54,1556.00 596.50,1577.60 596.50,1616.00 C596.50,1654.40 565.54,1676.00 510.50,1676.00 C455.46,1676.00 424.50,1654.40 424.50,1616.00 Z" fill="#1e1e1e" stroke="#9a9a9a" stroke-width="1.0"/>
<path d="M427.70,1616.00 C427.70,1579.65 457.51,1559.20 510.50,1559.20 C563.49,1559.20 593.30,1579.65 593.30,1616.00 C593.30,1652.35 563.49,1672.80 510.50,1672.80 C457.51,1672.80 427.70,1652.35 427.70,1616.00 Z" fill="#5a5a5a"/>
<path d="M432.70,1616.00 C432.70,1582.85 460.71,1564.20 510.50,1564.20 C560.29,1564.20 588.30,1582.85 588.30,1616.00 C588.30,1649.15 560.29,1667.80 510.50,1667.80 C460.71,1667.80 432.70,1649.15 432.70,1616.00 Z" fill="#060606"/>
<ellipse cx="430.5" cy="1616.0" rx="3.6" ry="1.6" fill="#eee" transform="rotate(270 430.5 1616.0)"/>
<ellipse cx="435.3" cy="1634.5" rx="3.6" ry="1.6" fill="#eee" transform="rotate(250 435.3 1634.5)"/>
<ellipse cx="435.3" cy="1597.5" rx="3.6" ry="1.6" fill="#eee" transform="rotate(290 435.3 1597.5)"/>
<ellipse cx="449.2" cy="1650.7" rx="3.6" ry="1.6" fill="#eee" transform="rotate(230 449.2 1650.7)"/>
<ellipse cx="571.8" cy="1650.7" rx="3.6" ry="1.6" fill="#eee" transform="rotate(130 571.8 1650.7)"/>
<ellipse cx="585.7" cy="1634.5" rx="3.6" ry="1.6" fill="#eee" transform="rotate(110 585.7 1634.5)"/>
<ellipse cx="590.5" cy="1616.0" rx="3.6" ry="1.6" fill="#eee" transform="rotate(90 590.5 1616.0)"/>
<ellipse cx="585.7" cy="1597.5" rx="3.6" ry="1.6" fill="#eee" transform="rotate(430 585.7 1597.5)"/>
<ellipse cx="550.5" cy="1662.8" rx="3.6" ry="1.6" fill="#eee" transform="rotate(150 550.5 1662.8)"/>
<ellipse cx="470.5" cy="1662.8" rx="3.6" ry="1.6" fill="#eee" transform="rotate(210 470.5 1662.8)"/>
<clipPath id="bi7"><path d="M432.70,1616.00 C432.70,1582.85 460.71,1564.20 510.50,1564.20 C560.29,1564.20 588.30,1582.85 588.30,1616.00 C588.30,1649.15 560.29,1667.80 510.50,1667.80 C460.71,1667.80 432.70,1649.15 432.70,1616.00 Z"/></clipPath>
<g clip-path="url(#bi7)">
<ellipse cx="484.7" cy="1671.2" rx="31.0" ry="15.6" fill="#777"/>
<ellipse cx="536.3" cy="1671.2" rx="31.0" ry="15.6" fill="#777"/>
<path d="M465,1585 C468,1570 490,1565 520,1565 C540,1565 552,1570 553,1585 C554,1600 548,1612 535,1618 C520,1624 500,1626 485,1624 C470,1620 463,1610 463,1598 Z" fill="#b9b9b9" />
<ellipse cx="462" cy="1610" rx="17" ry="23" fill="#6a6a6a" />
<ellipse cx="555" cy="1620" rx="22" ry="14" fill="#5a5a5a" />
<ellipse cx="562" cy="1636" rx="22" ry="13" fill="#b5b5b5" />
<path d="M490,1662 C495,1650 525,1650 530,1662 L535,1676 L485,1676 Z" fill="#8a8a8a" />
</g>
<g transform="translate(512 1642) scale(1.15)"><path d="M-9,-8 Q0,-12 9,-8 L10,4 Q6,8 0,8 Q-6,8 -10,4 Z" fill="#f4f4f4"/><path d="M-4,6 L4,6 L5,14 L2,20 L-2,20 L-5,14 Z" fill="#eee"/><path d="M-6,8 L-16,14 L-15,16 L-5,12 Z M6,8 L16,14 L15,16 L5,12 Z" fill="#ddd"/><ellipse cx="0" cy="9" rx="3.6" ry="2.6" fill="#777"/></g>
<circle cx="514.00" cy="1625.50" r="5.50" fill="#e6e6e6" />
<path d="M566.5,1619.6 L554.9,1603.1 L560.7,1599.0 L546.0,1594.7 L545.1,1610.0 L550.9,1606.0 L562.5,1622.4 Z" fill="#f2b81c" />
</g>
<clipPath id="c8"><rect x="606.2" y="1554.8" width="173.0" height="122.40000000000009"/></clipPath>
<rect x="606.20" y="1554.80" width="173.00" height="122.40" fill="#000" />
<g clip-path="url(#c8)">
<path d="M607.50,1616.00 C607.50,1577.60 638.10,1556.00 692.50,1556.00 C746.90,1556.00 777.50,1577.60 777.50,1616.00 C777.50,1654.40 746.90,1676.00 692.50,1676.00 C638.10,1676.00 607.50,1654.40 607.50,1616.00 Z" fill="#1e1e1e" stroke="#9a9a9a" stroke-width="1.0"/>
<path d="M610.70,1616.00 C610.70,1579.65 640.15,1559.20 692.50,1559.20 C744.85,1559.20 774.30,1579.65 774.30,1616.00 C774.30,1652.35 744.85,1672.80 692.50,1672.80 C640.15,1672.80 610.70,1652.35 610.70,1616.00 Z" fill="#5a5a5a"/>
<path d="M615.70,1616.00 C615.70,1582.85 643.35,1564.20 692.50,1564.20 C741.65,1564.20 769.30,1582.85 769.30,1616.00 C769.30,1649.15 741.65,1667.80 692.50,1667.80 C643.35,1667.80 615.70,1649.15 615.70,1616.00 Z" fill="#060606"/>
<ellipse cx="613.5" cy="1616.0" rx="3.6" ry="1.6" fill="#eee" transform="rotate(270 613.5 1616.0)"/>
<ellipse cx="618.3" cy="1634.5" rx="3.6" ry="1.6" fill="#eee" transform="rotate(250 618.3 1634.5)"/>
<ellipse cx="618.3" cy="1597.5" rx="3.6" ry="1.6" fill="#eee" transform="rotate(290 618.3 1597.5)"/>
<ellipse cx="632.0" cy="1650.7" rx="3.6" ry="1.6" fill="#eee" transform="rotate(230 632.0 1650.7)"/>
<ellipse cx="753.0" cy="1650.7" rx="3.6" ry="1.6" fill="#eee" transform="rotate(130 753.0 1650.7)"/>
<ellipse cx="766.7" cy="1634.5" rx="3.6" ry="1.6" fill="#eee" transform="rotate(110 766.7 1634.5)"/>
<ellipse cx="771.5" cy="1616.0" rx="3.6" ry="1.6" fill="#eee" transform="rotate(90 771.5 1616.0)"/>
<ellipse cx="766.7" cy="1597.5" rx="3.6" ry="1.6" fill="#eee" transform="rotate(430 766.7 1597.5)"/>
<ellipse cx="732.0" cy="1662.8" rx="3.6" ry="1.6" fill="#eee" transform="rotate(150 732.0 1662.8)"/>
<ellipse cx="653.0" cy="1662.8" rx="3.6" ry="1.6" fill="#eee" transform="rotate(210 653.0 1662.8)"/>
<clipPath id="bi8"><path d="M615.70,1616.00 C615.70,1582.85 643.35,1564.20 692.50,1564.20 C741.65,1564.20 769.30,1582.85 769.30,1616.00 C769.30,1649.15 741.65,1667.80 692.50,1667.80 C643.35,1667.80 615.70,1649.15 615.70,1616.00 Z"/></clipPath>
<g clip-path="url(#bi8)">
<ellipse cx="667.0" cy="1671.2" rx="30.6" ry="15.6" fill="#777"/>
<ellipse cx="718.0" cy="1671.2" rx="30.6" ry="15.6" fill="#777"/>
<path d="M662,1578 C664,1568 685,1563 705,1564 C722,1565 732,1572 732,1585 C732,1597 725,1603 710,1605 C695,1606 680,1604 670,1598 C663,1593 661,1585 662,1578 Z" fill="#bdbdbd" />
<ellipse cx="735" cy="1603" rx="16" ry="14" fill="#5a5a5a" />
<ellipse cx="751" cy="1630" rx="14" ry="22" fill="#bababa" />
<ellipse cx="688" cy="1615" rx="22" ry="9" fill="#aaa" transform="rotate(-15 688 1615)" />
<ellipse cx="664" cy="1608" rx="9" ry="12" fill="#999" />
<ellipse cx="663" cy="1636" rx="10" ry="6" fill="#f2f2f2" />
<ellipse cx="648" cy="1600" rx="8" ry="14" fill="#444" />
<path d="M670,1660 C675,1648 705,1648 712,1660 L716,1676 L665,1676 Z" fill="#8a8a8a" />
</g>
<g transform="translate(692 1645) scale(1.1)"><path d="M-9,-8 Q0,-12 9,-8 L10,4 Q6,8 0,8 Q-6,8 -10,4 Z" fill="#f4f4f4"/><path d="M-4,6 L4,6 L5,14 L2,20 L-2,20 L-5,14 Z" fill="#eee"/><path d="M-6,8 L-16,14 L-15,16 L-5,12 Z M6,8 L16,14 L15,16 L5,12 Z" fill="#ddd"/><ellipse cx="0" cy="9" rx="3.6" ry="2.6" fill="#777"/></g>
<circle cx="695.00" cy="1630.00" r="4.50" fill="#ddd" />
</g>
<clipPath id="c9"><rect x="806.6" y="1427.1" width="176.29999999999995" height="122.70000000000005"/></clipPath>
<rect x="806.60" y="1427.10" width="176.30" height="122.70" fill="#000" />
<g clip-path="url(#c9)">
<path d="M808.50,1488.00 C808.50,1449.60 839.64,1428.00 895.00,1428.00 C950.36,1428.00 981.50,1449.60 981.50,1488.00 C981.50,1526.40 950.36,1548.00 895.00,1548.00 C839.64,1548.00 808.50,1526.40 808.50,1488.00 Z" fill="#1e1e1e" stroke="#9a9a9a" stroke-width="1.0"/>
<path d="M811.70,1488.00 C811.70,1451.65 841.69,1431.20 895.00,1431.20 C948.31,1431.20 978.30,1451.65 978.30,1488.00 C978.30,1524.35 948.31,1544.80 895.00,1544.80 C841.69,1544.80 811.70,1524.35 811.70,1488.00 Z" fill="#5a5a5a"/>
<path d="M816.70,1488.00 C816.70,1454.85 844.89,1436.20 895.00,1436.20 C945.11,1436.20 973.30,1454.85 973.30,1488.00 C973.30,1521.15 945.11,1539.80 895.00,1539.80 C844.89,1539.80 816.70,1521.15 816.70,1488.00 Z" fill="#5c5c5c"/>
<ellipse cx="814.8" cy="1483.3" rx="3.4000000000000004" ry="1.4400000000000002" fill="#eee" transform="rotate(275 814.8 1483.3)"/>
<ellipse cx="817.2" cy="1502.0" rx="3.4000000000000004" ry="1.4400000000000002" fill="#eee" transform="rotate(255 817.2 1502.0)"/>
<ellipse cx="819.4" cy="1469.5" rx="3.4000000000000004" ry="1.4400000000000002" fill="#eee" transform="rotate(290 819.4 1469.5)"/>
<ellipse cx="972.8" cy="1502.0" rx="3.4000000000000004" ry="1.4400000000000002" fill="#eee" transform="rotate(105 972.8 1502.0)"/>
<ellipse cx="975.5" cy="1488.0" rx="3.4000000000000004" ry="1.4400000000000002" fill="#eee" transform="rotate(90 975.5 1488.0)"/>
<ellipse cx="972.8" cy="1474.0" rx="3.4000000000000004" ry="1.4400000000000002" fill="#eee" transform="rotate(435 972.8 1474.0)"/>
<clipPath id="bi9"><path d="M816.70,1488.00 C816.70,1454.85 844.89,1436.20 895.00,1436.20 C945.11,1436.20 973.30,1454.85 973.30,1488.00 C973.30,1521.15 945.11,1539.80 895.00,1539.80 C844.89,1539.80 816.70,1521.15 816.70,1488.00 Z"/></clipPath>
<g clip-path="url(#bi9)">
<ellipse cx="866.5" cy="1540.8" rx="36.3" ry="18.0" fill="#7a7a7a"/>
<ellipse cx="923.5" cy="1540.8" rx="36.3" ry="18.0" fill="#7a7a7a"/>
<ellipse cx="827.5" cy="1485.0" rx="8.7" ry="27.0" fill="#1e1e1e"/>
<ellipse cx="900" cy="1452" rx="30" ry="10" fill="#2a2a2a" />
<ellipse cx="870" cy="1441" rx="12" ry="8" fill="#8a8a8a" />
<ellipse cx="870" cy="1441" rx="6" ry="3" fill="#000" />
<ellipse cx="905" cy="1455" rx="14" ry="8" fill="#8c8c8c" />
<ellipse cx="922" cy="1460" rx="10" ry="8" fill="#8c8c8c" />
<ellipse cx="895" cy="1463" rx="10" ry="6" fill="#888" />
<ellipse cx="851" cy="1461" rx="12" ry="8" fill="#8a8a8a" />
<ellipse cx="858" cy="1494" rx="30" ry="15" fill="#8e8e8e" />
<ellipse cx="868" cy="1477" rx="21" ry="11" fill="#7a7a7a" />
<ellipse cx="868" cy="1478" rx="14" ry="7" fill="#6e6e6e" />
<ellipse cx="951" cy="1487" rx="19" ry="34" fill="#b4b4b4" transform="rotate(-6 951 1487)" />
<ellipse cx="925" cy="1497" rx="6" ry="9" fill="#d8d8d8" />
<ellipse cx="856" cy="1519" rx="18" ry="10" fill="#e4e4e4" />
<ellipse cx="856" cy="1519" rx="12" ry="6" fill="#9a9a9a" />
<ellipse cx="892" cy="1483" rx="10" ry="2.5" fill="#cfcfcf" transform="rotate(-25 892 1483)" />
</g>
<g transform="translate(898.5 1507) scale(1.15)"><path d="M-9,-8 Q0,-12 9,-8 L10,4 Q6,8 0,8 Q-6,8 -10,4 Z" fill="#f4f4f4"/><path d="M-4,6 L4,6 L5,14 L2,20 L-2,20 L-5,14 Z" fill="#eee"/><path d="M-6,8 L-16,14 L-15,16 L-5,12 Z M6,8 L16,14 L15,16 L5,12 Z" fill="#ddd"/><ellipse cx="0" cy="9" rx="3.6" ry="2.6" fill="#777"/></g>
<circle cx="898.50" cy="1488.50" r="3.60" fill="#eee" />
<circle cx="864.00" cy="1503.00" r="3.00" fill="#ddd" />
<path d="M833.8,1514.7 L848.4,1499.8 L853.4,1504.7 L855.0,1489.5 L839.8,1491.4 L844.8,1496.3 L830.2,1511.3 Z" fill="#f2b81c" />
</g>
<clipPath id="c10"><rect x="990.4" y="1427.1" width="174.60000000000002" height="122.70000000000005"/></clipPath>
<rect x="990.40" y="1427.10" width="174.60" height="122.70" fill="#000" />
<g clip-path="url(#c10)">
<path d="M992.50,1488.00 C992.50,1449.92 1023.28,1428.50 1078.00,1428.50 C1132.72,1428.50 1163.50,1449.92 1163.50,1488.00 C1163.50,1526.08 1132.72,1547.50 1078.00,1547.50 C1023.28,1547.50 992.50,1526.08 992.50,1488.00 Z" fill="#1e1e1e" stroke="#9a9a9a" stroke-width="1.0"/>
<path d="M995.70,1488.00 C995.70,1451.97 1025.33,1431.70 1078.00,1431.70 C1130.67,1431.70 1160.30,1451.97 1160.30,1488.00 C1160.30,1524.03 1130.67,1544.30 1078.00,1544.30 C1025.33,1544.30 995.70,1524.03 995.70,1488.00 Z" fill="#5a5a5a"/>
<path d="M1000.70,1488.00 C1000.70,1455.17 1028.53,1436.70 1078.00,1436.70 C1127.47,1436.70 1155.30,1455.17 1155.30,1488.00 C1155.30,1520.83 1127.47,1539.30 1078.00,1539.30 C1028.53,1539.30 1000.70,1520.83 1000.70,1488.00 Z" fill="#5c5c5c"/>
<ellipse cx="998.8" cy="1483.3" rx="3.4000000000000004" ry="1.4400000000000002" fill="#eee" transform="rotate(275 998.8 1483.3)"/>
<ellipse cx="1001.2" cy="1501.8" rx="3.4000000000000004" ry="1.4400000000000002" fill="#eee" transform="rotate(255 1001.2 1501.8)"/>
<ellipse cx="1003.3" cy="1469.7" rx="3.4000000000000004" ry="1.4400000000000002" fill="#eee" transform="rotate(290 1003.3 1469.7)"/>
<ellipse cx="1154.8" cy="1501.8" rx="3.4000000000000004" ry="1.4400000000000002" fill="#eee" transform="rotate(105 1154.8 1501.8)"/>
<ellipse cx="1157.5" cy="1488.0" rx="3.4000000000000004" ry="1.4400000000000002" fill="#eee" transform="rotate(90 1157.5 1488.0)"/>
<ellipse cx="1154.8" cy="1474.2" rx="3.4000000000000004" ry="1.4400000000000002" fill="#eee" transform="rotate(435 1154.8 1474.2)"/>
<clipPath id="bi10"><path d="M1000.70,1488.00 C1000.70,1455.17 1028.53,1436.70 1078.00,1436.70 C1127.47,1436.70 1155.30,1455.17 1155.30,1488.00 C1155.30,1520.83 1127.47,1539.30 1078.00,1539.30 C1028.53,1539.30 1000.70,1520.83 1000.70,1488.00 Z"/></clipPath>
<g clip-path="url(#bi10)">
<ellipse cx="1049.8" cy="1540.4" rx="35.9" ry="17.8" fill="#7a7a7a"/>
<ellipse cx="1106.2" cy="1540.4" rx="35.9" ry="17.8" fill="#7a7a7a"/>
<ellipse cx="1011.3" cy="1485.0" rx="8.6" ry="26.8" fill="#1e1e1e"/>
<ellipse cx="1068" cy="1438" rx="12" ry="8" fill="#8a8a8a" />
<ellipse cx="1068" cy="1438" rx="5" ry="3" fill="#000" />
<ellipse cx="1098" cy="1452" rx="16" ry="11" fill="#8c8c8c" />
<ellipse cx="1110" cy="1445" rx="6" ry="8" fill="#7a7a7a" />
<ellipse cx="1019" cy="1460" rx="9" ry="10" fill="#9a9a9a" />
<ellipse cx="1064" cy="1457" rx="24" ry="4" fill="#d0d0d0" transform="rotate(8 1064 1457)" />
<ellipse cx="1058" cy="1479" rx="15" ry="15" fill="#8a8a8a" />
<ellipse cx="1032" cy="1500" rx="25" ry="26" fill="#b6b6b6" />
<ellipse cx="1043" cy="1518" rx="16" ry="9" fill="#e0e0e0" />
<ellipse cx="1132" cy="1486" rx="25" ry="36" fill="#b6b6b6" transform="rotate(4 1132 1486)" />
<ellipse cx="1108" cy="1479" rx="9" ry="5" fill="#cfcfcf" />
</g>
<g transform="translate(1083 1508) scale(1.2)"><path d="M-9,-8 Q0,-12 9,-8 L10,4 Q6,8 0,8 Q-6,8 -10,4 Z" fill="#f4f4f4"/><path d="M-4,6 L4,6 L5,14 L2,20 L-2,20 L-5,14 Z" fill="#eee"/><path d="M-6,8 L-16,14 L-15,16 L-5,12 Z M6,8 L16,14 L15,16 L5,12 Z" fill="#ddd"/><ellipse cx="0" cy="9" rx="3.6" ry="2.6" fill="#777"/></g>
<circle cx="1082.00" cy="1486.00" r="4.00" fill="#ddd" />
<path d="M1042.6,1454.6 L1023.1,1448.0 L1036.0,1435.1 Z" fill="#c4461f" />
<path d="M1076.6,1495.6 L1093.1,1501.1 L1082.1,1512.1 Z" fill="#c4461f" />
<path d="M1112.1,1488.6 L1128.6,1494.1 L1117.6,1505.1 Z" fill="#c4461f" />
</g>
<clipPath id="c11"><rect x="806.6" y="1555.5" width="176.29999999999995" height="122.0"/></clipPath>
<rect x="806.60" y="1555.50" width="176.30" height="122.00" fill="#000" />
<g clip-path="url(#c11)">
<path d="M808.50,1616.00 C808.50,1577.92 839.64,1556.50 895.00,1556.50 C950.36,1556.50 981.50,1577.92 981.50,1616.00 C981.50,1654.08 950.36,1675.50 895.00,1675.50 C839.64,1675.50 808.50,1654.08 808.50,1616.00 Z" fill="#1e1e1e" stroke="#9a9a9a" stroke-width="1.0"/>
<path d="M811.70,1616.00 C811.70,1579.97 841.69,1559.70 895.00,1559.70 C948.31,1559.70 978.30,1579.97 978.30,1616.00 C978.30,1652.03 948.31,1672.30 895.00,1672.30 C841.69,1672.30 811.70,1652.03 811.70,1616.00 Z" fill="#5a5a5a"/>
<path d="M816.70,1616.00 C816.70,1583.17 844.89,1564.70 895.00,1564.70 C945.11,1564.70 973.30,1583.17 973.30,1616.00 C973.30,1648.83 945.11,1667.30 895.00,1667.30 C844.89,1667.30 816.70,1648.83 816.70,1616.00 Z" fill="#5c5c5c"/>
<ellipse cx="814.8" cy="1611.3" rx="3.4000000000000004" ry="1.4400000000000002" fill="#eee" transform="rotate(275 814.8 1611.3)"/>
<ellipse cx="817.2" cy="1629.8" rx="3.4000000000000004" ry="1.4400000000000002" fill="#eee" transform="rotate(255 817.2 1629.8)"/>
<ellipse cx="819.4" cy="1597.7" rx="3.4000000000000004" ry="1.4400000000000002" fill="#eee" transform="rotate(290 819.4 1597.7)"/>
<ellipse cx="972.8" cy="1629.8" rx="3.4000000000000004" ry="1.4400000000000002" fill="#eee" transform="rotate(105 972.8 1629.8)"/>
<ellipse cx="975.5" cy="1616.0" rx="3.4000000000000004" ry="1.4400000000000002" fill="#eee" transform="rotate(90 975.5 1616.0)"/>
<ellipse cx="972.8" cy="1602.2" rx="3.4000000000000004" ry="1.4400000000000002" fill="#eee" transform="rotate(435 972.8 1602.2)"/>
<clipPath id="bi11"><path d="M816.70,1616.00 C816.70,1583.17 844.89,1564.70 895.00,1564.70 C945.11,1564.70 973.30,1583.17 973.30,1616.00 C973.30,1648.83 945.11,1667.30 895.00,1667.30 C844.89,1667.30 816.70,1648.83 816.70,1616.00 Z"/></clipPath>
<g clip-path="url(#bi11)">
<ellipse cx="866.5" cy="1668.4" rx="36.3" ry="17.8" fill="#7a7a7a"/>
<ellipse cx="923.5" cy="1668.4" rx="36.3" ry="17.8" fill="#7a7a7a"/>
<ellipse cx="827.5" cy="1613.0" rx="8.7" ry="26.8" fill="#1e1e1e"/>
<ellipse cx="879" cy="1572" rx="12" ry="9" fill="#8a8a8a" />
<ellipse cx="879" cy="1571" rx="6" ry="4" fill="#000" />
<ellipse cx="920" cy="1580" rx="14" ry="10" fill="#8a8a8a" />
<ellipse cx="930" cy="1590" rx="9" ry="8" fill="#808080" />
<ellipse cx="858" cy="1588" rx="12" ry="9" fill="#8c8c8c" />
<ellipse cx="886" cy="1596" rx="24" ry="5" fill="#d2d2d2" transform="rotate(-3 886 1596)" />
<ellipse cx="875" cy="1608" rx="16" ry="9" fill="#7e7e7e" />
<ellipse cx="850" cy="1619" rx="17" ry="11" fill="#a2a2a2" />
<ellipse cx="830" cy="1632" rx="8" ry="11" fill="#666" />
<path d="M932,1583 C945,1578 965,1582 972,1600 C976,1620 972,1645 955,1653 C942,1658 930,1655 926,1647 C935,1640 940,1630 932,1622 C922,1615 918,1605 920,1595 C922,1588 926,1585 932,1583 Z" fill="#b4b4b4" />
<ellipse cx="856" cy="1648" rx="18" ry="11" fill="#e4e4e4" />
<ellipse cx="858" cy="1648" rx="10" ry="5" fill="#9a9a9a" />
<ellipse cx="905" cy="1640" rx="6" ry="4" fill="#ccc" />
</g>
<g transform="translate(899 1638) scale(1.2)"><path d="M-9,-8 Q0,-12 9,-8 L10,4 Q6,8 0,8 Q-6,8 -10,4 Z" fill="#f4f4f4"/><path d="M-4,6 L4,6 L5,14 L2,20 L-2,20 L-5,14 Z" fill="#eee"/><path d="M-6,8 L-16,14 L-15,16 L-5,12 Z M6,8 L16,14 L15,16 L5,12 Z" fill="#ddd"/><ellipse cx="0" cy="9" rx="3.6" ry="2.6" fill="#777"/></g>
<circle cx="898.50" cy="1621.00" r="3.80" fill="#eee" />
<path d="M838.4,1643.6 L852.2,1627.3 L857.5,1631.8 L858.0,1616.5 L843.0,1619.6 L848.4,1624.1 L834.6,1640.4 Z" fill="#f2b81c" />
</g>
<clipPath id="c12"><rect x="990.5" y="1555.5" width="174.20000000000005" height="122.0"/></clipPath>
<rect x="990.50" y="1555.50" width="174.20" height="122.00" fill="#000" />
<g clip-path="url(#c12)">
<path d="M992.00,1616.00 C992.00,1577.92 1022.78,1556.50 1077.50,1556.50 C1132.22,1556.50 1163.00,1577.92 1163.00,1616.00 C1163.00,1654.08 1132.22,1675.50 1077.50,1675.50 C1022.78,1675.50 992.00,1654.08 992.00,1616.00 Z" fill="#1e1e1e" stroke="#9a9a9a" stroke-width="1.0"/>
<path d="M995.20,1616.00 C995.20,1579.97 1024.83,1559.70 1077.50,1559.70 C1130.17,1559.70 1159.80,1579.97 1159.80,1616.00 C1159.80,1652.03 1130.17,1672.30 1077.50,1672.30 C1024.83,1672.30 995.20,1652.03 995.20,1616.00 Z" fill="#5a5a5a"/>
<path d="M1000.20,1616.00 C1000.20,1583.17 1028.03,1564.70 1077.50,1564.70 C1126.97,1564.70 1154.80,1583.17 1154.80,1616.00 C1154.80,1648.83 1126.97,1667.30 1077.50,1667.30 C1028.03,1667.30 1000.20,1648.83 1000.20,1616.00 Z" fill="#5c5c5c"/>
<ellipse cx="998.3" cy="1611.3" rx="3.4000000000000004" ry="1.4400000000000002" fill="#eee" transform="rotate(275 998.3 1611.3)"/>
<ellipse cx="1000.7" cy="1629.8" rx="3.4000000000000004" ry="1.4400000000000002" fill="#eee" transform="rotate(255 1000.7 1629.8)"/>
<ellipse cx="1002.8" cy="1597.7" rx="3.4000000000000004" ry="1.4400000000000002" fill="#eee" transform="rotate(290 1002.8 1597.7)"/>
<ellipse cx="1154.3" cy="1629.8" rx="3.4000000000000004" ry="1.4400000000000002" fill="#eee" transform="rotate(105 1154.3 1629.8)"/>
<ellipse cx="1157.0" cy="1616.0" rx="3.4000000000000004" ry="1.4400000000000002" fill="#eee" transform="rotate(90 1157.0 1616.0)"/>
<ellipse cx="1154.3" cy="1602.2" rx="3.4000000000000004" ry="1.4400000000000002" fill="#eee" transform="rotate(435 1154.3 1602.2)"/>
<clipPath id="bi12"><path d="M1000.20,1616.00 C1000.20,1583.17 1028.03,1564.70 1077.50,1564.70 C1126.97,1564.70 1154.80,1583.17 1154.80,1616.00 C1154.80,1648.83 1126.97,1667.30 1077.50,1667.30 C1028.03,1667.30 1000.20,1648.83 1000.20,1616.00 Z"/></clipPath>
<g clip-path="url(#bi12)">
<ellipse cx="1049.3" cy="1668.4" rx="35.9" ry="17.8" fill="#7a7a7a"/>
<ellipse cx="1105.7" cy="1668.4" rx="35.9" ry="17.8" fill="#7a7a7a"/>
<ellipse cx="1010.8" cy="1613.0" rx="8.6" ry="26.8" fill="#1e1e1e"/>
<ellipse cx="1065" cy="1572" rx="12" ry="9" fill="#8a8a8a" />
<ellipse cx="1065" cy="1571" rx="6" ry="4" fill="#000" />
<ellipse cx="1101" cy="1580" rx="14" ry="10" fill="#8a8a8a" />
<ellipse cx="1112" cy="1590" rx="9" ry="8" fill="#808080" />
<ellipse cx="1040" cy="1588" rx="12" ry="9" fill="#8c8c8c" />
<ellipse cx="1060" cy="1596" rx="24" ry="5" fill="#c6c6c6" transform="rotate(-3 1060 1596)" />
<ellipse cx="1057" cy="1608" rx="15" ry="9" fill="#727272" />
<ellipse cx="1032" cy="1620" rx="16" ry="11" fill="#989898" />
<ellipse cx="1018" cy="1637" rx="9" ry="11" fill="#555" />
<path d="M1117,1583 C1130,1578 1150,1582 1157,1600 C1161,1620 1157,1645 1140,1653 C1127,1658 1115,1655 1111,1647 C1120,1640 1125,1630 1117,1622 C1107,1615 1103,1605 1105,1595 C1107,1588 1111,1585 1117,1583 Z" fill="#b0b0b0" />
<ellipse cx="1041" cy="1646" rx="16" ry="11" fill="#dcdcdc" />
<ellipse cx="1043" cy="1646" rx="9" ry="5" fill="#999" />
<ellipse cx="1098" cy="1608" rx="9" ry="6" fill="#bbb" />
</g>
<g transform="translate(1081.5 1638) scale(1.2)"><path d="M-9,-8 Q0,-12 9,-8 L10,4 Q6,8 0,8 Q-6,8 -10,4 Z" fill="#f4f4f4"/><path d="M-4,6 L4,6 L5,14 L2,20 L-2,20 L-5,14 Z" fill="#eee"/><path d="M-6,8 L-16,14 L-15,16 L-5,12 Z M6,8 L16,14 L15,16 L5,12 Z" fill="#ddd"/><ellipse cx="0" cy="9" rx="3.6" ry="2.6" fill="#777"/></g>
<circle cx="1081.60" cy="1619.70" r="3.80" fill="#eee" />
<path d="M1096.6,1613.0 L1113.1,1618.5 L1102.1,1629.5 Z" fill="#c4461f" />
<path d="M1076.6,1628.4 L1093.1,1633.9 L1082.1,1644.9 Z" fill="#c4461f" />
</g>
</g>
</svg>
</body></html>
